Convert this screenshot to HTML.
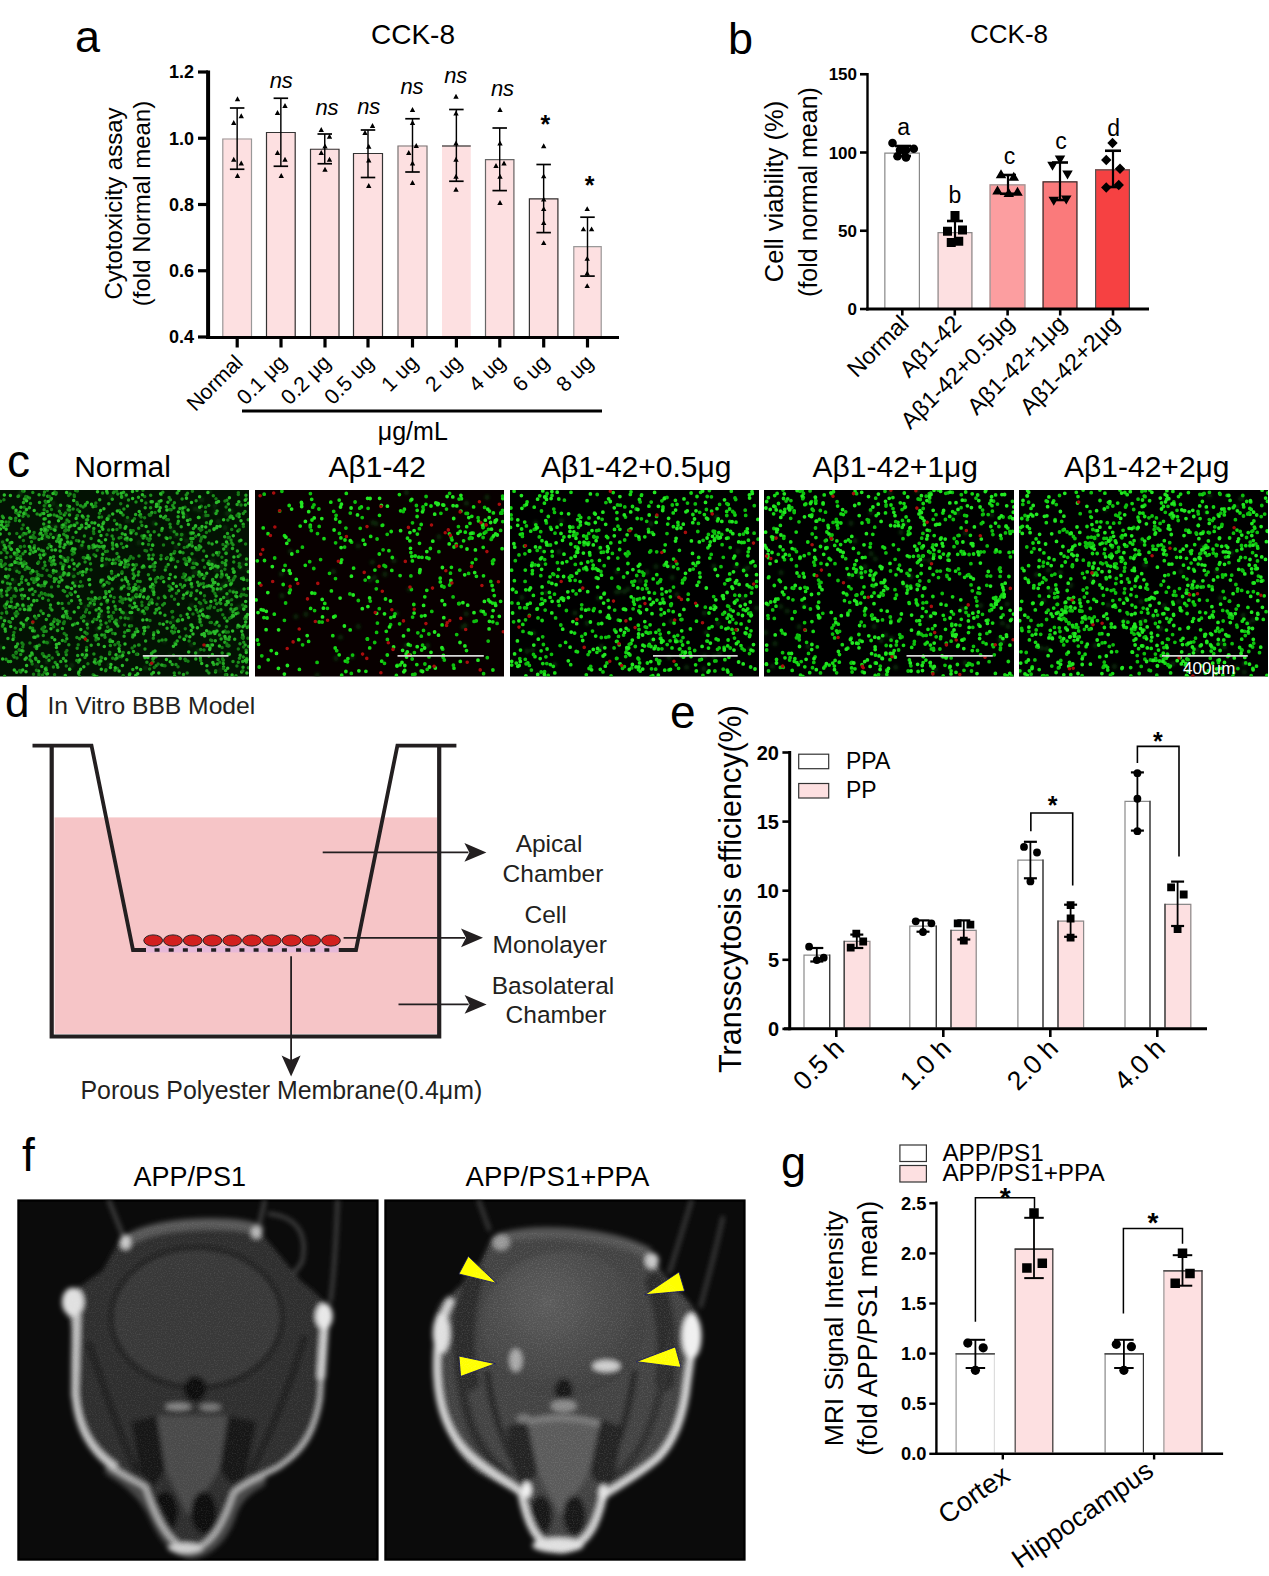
<!DOCTYPE html><html><head><meta charset="utf-8"><title>figure</title><style>html,body{margin:0;padding:0;background:#fff;overflow:hidden}svg{display:block}text{font-family:"Liberation Sans",sans-serif}</style></head><body><svg width="1269" height="1576" viewBox="0 0 1269 1576"><text x="75" y="51.5" font-size="45">a</text>
<text x="371" y="44" font-size="28">CCK-8</text>
<line x1="208.1" y1="70.5" x2="208.1" y2="339" stroke="#000" stroke-width="4"/>
<line x1="198" y1="72.00000000000006" x2="208" y2="72.00000000000006" stroke="#000" stroke-width="3.2"/>
<text x="194" y="78.30000000000005" font-size="18" text-anchor="end" font-weight="bold">1.2</text>
<line x1="198" y1="138.25000000000003" x2="208" y2="138.25000000000003" stroke="#000" stroke-width="3.2"/>
<text x="194" y="144.55000000000004" font-size="18" text-anchor="end" font-weight="bold">1.0</text>
<line x1="198" y1="204.5" x2="208" y2="204.5" stroke="#000" stroke-width="3.2"/>
<text x="194" y="210.8" font-size="18" text-anchor="end" font-weight="bold">0.8</text>
<line x1="198" y1="270.75" x2="208" y2="270.75" stroke="#000" stroke-width="3.2"/>
<text x="194" y="277.05" font-size="18" text-anchor="end" font-weight="bold">0.6</text>
<line x1="198" y1="337.0" x2="208" y2="337.0" stroke="#000" stroke-width="3.2"/>
<text x="194" y="343.3" font-size="18" text-anchor="end" font-weight="bold">0.4</text>
<text x="121.5" y="203.5" font-size="24" text-anchor="middle" transform="rotate(-90 121.5 203.5)">Cytotoxicity assay</text>
<text x="149.5" y="203.5" font-size="24" text-anchor="middle" transform="rotate(-90 149.5 203.5)">(fold Normal mean)</text>
<rect x="222.3" y="138.5" width="29.69999999999999" height="197.5" fill="#fde0e1"/>
<path d="M222.8 336V139.0H251.5V336" fill="none" stroke="#999" stroke-width="1.2"/>
<line x1="237.15" y1="108" x2="237.15" y2="169.25" stroke="#000" stroke-width="1.45"/>
<line x1="229.9" y1="108" x2="244.4" y2="108" stroke="#000" stroke-width="1.7"/>
<line x1="229.9" y1="169.25" x2="244.4" y2="169.25" stroke="#000" stroke-width="1.7"/>
<rect x="266" y="132" width="29.69999999999999" height="204" fill="#fde0e1"/>
<path d="M266.5 336V132.5H295.2V336" fill="none" stroke="#333" stroke-width="1.2"/>
<line x1="280.85" y1="98.25" x2="280.85" y2="166.25" stroke="#000" stroke-width="1.45"/>
<line x1="273.6" y1="98.25" x2="288.1" y2="98.25" stroke="#000" stroke-width="1.7"/>
<line x1="273.6" y1="166.25" x2="288.1" y2="166.25" stroke="#000" stroke-width="1.7"/>
<rect x="310" y="148.75" width="29.5" height="187.25" fill="#fde0e1"/>
<path d="M310.5 336V149.25H339.0V336" fill="none" stroke="#333" stroke-width="1.2"/>
<line x1="324.75" y1="134" x2="324.75" y2="163.75" stroke="#000" stroke-width="1.45"/>
<line x1="317.5" y1="134" x2="332.0" y2="134" stroke="#000" stroke-width="1.7"/>
<line x1="317.5" y1="163.75" x2="332.0" y2="163.75" stroke="#000" stroke-width="1.7"/>
<rect x="353" y="153" width="30" height="183" fill="#fde0e1"/>
<path d="M353.5 336V153.5H382.5V336" fill="none" stroke="#333" stroke-width="1.2"/>
<line x1="368.0" y1="130" x2="368.0" y2="177.5" stroke="#000" stroke-width="1.45"/>
<line x1="360.75" y1="130" x2="375.25" y2="130" stroke="#000" stroke-width="1.7"/>
<line x1="360.75" y1="177.5" x2="375.25" y2="177.5" stroke="#000" stroke-width="1.7"/>
<rect x="397.5" y="145.5" width="30.0" height="190.5" fill="#fde0e1"/>
<path d="M398.0 336V146.0H427.0V336" fill="none" stroke="#777" stroke-width="1.2"/>
<line x1="412.5" y1="118.75" x2="412.5" y2="172" stroke="#000" stroke-width="1.45"/>
<line x1="405.25" y1="118.75" x2="419.75" y2="118.75" stroke="#000" stroke-width="1.7"/>
<line x1="405.25" y1="172" x2="419.75" y2="172" stroke="#000" stroke-width="1.7"/>
<rect x="442" y="145.5" width="28.75" height="190.5" fill="#fde0e1"/>
<line x1="442" y1="146.0" x2="470.75" y2="146.0" stroke="#333" stroke-width="1.2"/>
<line x1="456.375" y1="109.5" x2="456.375" y2="181.25" stroke="#000" stroke-width="1.45"/>
<line x1="449.125" y1="109.5" x2="463.625" y2="109.5" stroke="#000" stroke-width="1.7"/>
<line x1="449.125" y1="181.25" x2="463.625" y2="181.25" stroke="#000" stroke-width="1.7"/>
<rect x="485" y="159.2" width="29.399999999999977" height="176.8" fill="#fde0e1"/>
<path d="M485.5 336V159.7H513.9V336" fill="none" stroke="#666" stroke-width="1.2"/>
<line x1="499.7" y1="128" x2="499.7" y2="190.6" stroke="#000" stroke-width="1.45"/>
<line x1="492.45" y1="128" x2="506.95" y2="128" stroke="#000" stroke-width="1.7"/>
<line x1="492.45" y1="190.6" x2="506.95" y2="190.6" stroke="#000" stroke-width="1.7"/>
<rect x="528.9" y="198.3" width="29.5" height="137.7" fill="#fde0e1"/>
<path d="M529.4 336V198.8H557.9V336" fill="none" stroke="#333" stroke-width="1.2"/>
<line x1="543.65" y1="164.5" x2="543.65" y2="232.6" stroke="#000" stroke-width="1.45"/>
<line x1="536.4" y1="164.5" x2="550.9" y2="164.5" stroke="#000" stroke-width="1.7"/>
<line x1="536.4" y1="232.6" x2="550.9" y2="232.6" stroke="#000" stroke-width="1.7"/>
<rect x="573.3" y="246.2" width="28.40000000000009" height="89.80000000000001" fill="#fde0e1"/>
<path d="M573.8 336V246.7H601.2V336" fill="none" stroke="#999" stroke-width="1.2"/>
<line x1="587.5" y1="217.2" x2="587.5" y2="276.1" stroke="#000" stroke-width="1.45"/>
<line x1="580.25" y1="217.2" x2="594.75" y2="217.2" stroke="#000" stroke-width="1.7"/>
<line x1="580.25" y1="276.1" x2="594.75" y2="276.1" stroke="#000" stroke-width="1.7"/>
<path d="M234.80 101.15L240.20 101.15L237.50 96.35ZM238.55 118.15L243.95 118.15L241.25 113.35ZM231.05 124.90L236.45 124.90L233.75 120.10ZM231.05 161.65L236.45 161.65L233.75 156.85ZM238.55 165.40L243.95 165.40L241.25 160.60ZM234.80 177.90L240.20 177.90L237.50 173.10ZM282.30 107.90L287.70 107.90L285.00 103.10ZM274.80 114.90L280.20 114.90L277.50 110.10ZM274.80 154.90L280.20 154.90L277.50 150.10ZM282.30 161.65L287.70 161.65L285.00 156.85ZM278.55 177.90L283.95 177.90L281.25 173.10ZM318.55 131.90L323.95 131.90L321.25 127.10ZM326.80 138.65L332.20 138.65L329.50 133.85ZM322.30 148.40L327.70 148.40L325.00 143.60ZM318.55 154.90L323.95 154.90L321.25 150.10ZM326.80 161.65L332.20 161.65L329.50 156.85ZM322.30 171.65L327.70 171.65L325.00 166.85ZM369.80 127.90L375.20 127.90L372.50 123.10ZM362.30 134.90L367.70 134.90L365.00 130.10ZM366.05 148.65L371.45 148.65L368.75 143.85ZM366.05 162.40L371.45 162.40L368.75 157.60ZM366.05 187.90L371.45 187.90L368.75 183.10ZM409.80 111.90L415.20 111.90L412.50 107.10ZM409.80 124.90L415.20 124.90L412.50 120.10ZM413.55 147.90L418.95 147.90L416.25 143.10ZM406.05 154.90L411.45 154.90L408.75 150.10ZM409.80 165.40L415.20 165.40L412.50 160.60ZM409.80 184.90L415.20 184.90L412.50 180.10ZM453.30 98.65L458.70 98.65L456.00 93.85ZM453.30 115.40L458.70 115.40L456.00 110.60ZM453.30 145.40L458.70 145.40L456.00 140.60ZM453.30 161.65L458.70 161.65L456.00 156.85ZM453.30 178.65L458.70 178.65L456.00 173.85ZM453.30 191.65L458.70 191.65L456.00 186.85ZM497.30 111.90L502.70 111.90L500.00 107.10ZM497.30 145.40L502.70 145.40L500.00 140.60ZM493.30 167.90L498.70 167.90L496.00 163.10ZM501.30 165.40L506.70 165.40L504.00 160.60ZM497.30 178.65L502.70 178.65L500.00 173.85ZM497.30 204.90L502.70 204.90L500.00 200.10ZM541.00 148.15L546.40 148.15L543.70 143.35ZM541.00 178.30L546.40 178.30L543.70 173.50ZM541.00 201.60L546.40 201.60L543.70 196.80ZM541.00 211.00L546.40 211.00L543.70 206.20ZM541.00 224.90L546.40 224.90L543.70 220.10ZM541.00 245.10L546.40 245.10L543.70 240.30ZM584.50 211.00L589.90 211.00L587.20 206.20ZM580.70 231.20L586.10 231.20L583.40 226.40ZM588.90 231.20L594.30 231.20L591.60 226.40ZM584.50 260.80L589.90 260.80L587.20 256.00ZM584.50 275.40L589.90 275.40L587.20 270.60ZM584.50 288.00L589.90 288.00L587.20 283.20Z" fill="#000"/>
<line x1="206" y1="337.5" x2="619" y2="337.5" stroke="#000" stroke-width="3.2"/>
<line x1="237.2" y1="337" x2="237.2" y2="347.5" stroke="#000" stroke-width="3.2"/>
<text x="244.0" y="363.8" font-size="21.3" text-anchor="end" transform="rotate(-45 244.0 363.8)">Normal</text>
<line x1="281" y1="337" x2="281" y2="347.5" stroke="#000" stroke-width="3.2"/>
<text x="287.8" y="363.8" font-size="21.3" text-anchor="end" transform="rotate(-45 287.8 363.8)">0.1 μg</text>
<line x1="325" y1="337" x2="325" y2="347.5" stroke="#000" stroke-width="3.2"/>
<text x="331.8" y="363.8" font-size="21.3" text-anchor="end" transform="rotate(-45 331.8 363.8)">0.2 μg</text>
<line x1="368" y1="337" x2="368" y2="347.5" stroke="#000" stroke-width="3.2"/>
<text x="374.8" y="363.8" font-size="21.3" text-anchor="end" transform="rotate(-45 374.8 363.8)">0.5 ug</text>
<line x1="412.5" y1="337" x2="412.5" y2="347.5" stroke="#000" stroke-width="3.2"/>
<text x="419.3" y="363.8" font-size="21.3" text-anchor="end" transform="rotate(-45 419.3 363.8)">1 ug</text>
<line x1="456.4" y1="337" x2="456.4" y2="347.5" stroke="#000" stroke-width="3.2"/>
<text x="463.2" y="363.8" font-size="21.3" text-anchor="end" transform="rotate(-45 463.2 363.8)">2 ug</text>
<line x1="499.8" y1="337" x2="499.8" y2="347.5" stroke="#000" stroke-width="3.2"/>
<text x="506.6" y="363.8" font-size="21.3" text-anchor="end" transform="rotate(-45 506.6 363.8)">4 ug</text>
<line x1="543.7" y1="337" x2="543.7" y2="347.5" stroke="#000" stroke-width="3.2"/>
<text x="550.5" y="363.8" font-size="21.3" text-anchor="end" transform="rotate(-45 550.5 363.8)">6 ug</text>
<line x1="587.5" y1="337" x2="587.5" y2="347.5" stroke="#000" stroke-width="3.2"/>
<text x="594.3" y="363.8" font-size="21.3" text-anchor="end" transform="rotate(-45 594.3 363.8)">8 ug</text>
<text x="281.25" y="87.5" font-size="22" text-anchor="middle" font-style="italic">ns</text>
<text x="327" y="114.5" font-size="22" text-anchor="middle" font-style="italic">ns</text>
<text x="368.75" y="113.5" font-size="22" text-anchor="middle" font-style="italic">ns</text>
<text x="412" y="93.5" font-size="22" text-anchor="middle" font-style="italic">ns</text>
<text x="455.75" y="83" font-size="22" text-anchor="middle" font-style="italic">ns</text>
<text x="502.5" y="95.5" font-size="22" text-anchor="middle" font-style="italic">ns</text>
<text x="545.3" y="133.3" font-size="25" text-anchor="middle" font-weight="bold">*</text>
<text x="589.5" y="194.3" font-size="25" text-anchor="middle" font-weight="bold">*</text>
<line x1="242" y1="411" x2="602" y2="411" stroke="#000" stroke-width="3"/>
<text x="412.8" y="439.5" font-size="25" text-anchor="middle">μg/mL</text>
<text x="728" y="54" font-size="45">b</text>
<text x="970" y="42.6" font-size="26">CCK-8</text>
<line x1="867.5" y1="73" x2="867.5" y2="310.5" stroke="#000" stroke-width="2.4"/>
<line x1="860" y1="74.25" x2="867.5" y2="74.25" stroke="#000" stroke-width="2.6"/>
<text x="857" y="80.25" font-size="17" text-anchor="end" font-weight="bold">150</text>
<line x1="860" y1="152.5" x2="867.5" y2="152.5" stroke="#000" stroke-width="2.6"/>
<text x="857" y="158.5" font-size="17" text-anchor="end" font-weight="bold">100</text>
<line x1="860" y1="230.75" x2="867.5" y2="230.75" stroke="#000" stroke-width="2.6"/>
<text x="857" y="236.75" font-size="17" text-anchor="end" font-weight="bold">50</text>
<line x1="860" y1="309.0" x2="867.5" y2="309.0" stroke="#000" stroke-width="2.6"/>
<text x="857" y="315.0" font-size="17" text-anchor="end" font-weight="bold">0</text>
<text x="783" y="191.5" font-size="25.5" text-anchor="middle" transform="rotate(-90 783 191.5)">Cell viability (%)</text>
<text x="816.5" y="192" font-size="25" text-anchor="middle" transform="rotate(-90 816.5 192)">(fold normal mean)</text>
<rect x="884.25" y="152.5" width="35.75" height="155.5" fill="#fff"/>
<path d="M884.85 308V153.1H919.4V308" fill="none" stroke="#888" stroke-width="1.2"/>
<rect x="937.5" y="232" width="35.0" height="76" fill="#fde0e1"/>
<path d="M938.1 308V232.6H971.9V308" fill="none" stroke="#888" stroke-width="1.2"/>
<rect x="989.5" y="184.25" width="36.0" height="123.75" fill="#fc9ea0"/>
<path d="M990.1 308V184.85H1024.9V308" fill="none" stroke="#999" stroke-width="1.2"/>
<rect x="1042.5" y="181.25" width="35.0" height="126.75" fill="#fa7a7b"/>
<path d="M1043.1 308V181.85H1076.9V308" fill="none" stroke="#333" stroke-width="1.2"/>
<rect x="1095" y="169.25" width="35" height="138.75" fill="#f64142"/>
<path d="M1095.6 308V169.85H1129.4V308" fill="none" stroke="#555" stroke-width="1.2"/>
<line x1="903" y1="146" x2="903" y2="156" stroke="#000" stroke-width="2.2"/>
<line x1="895.0" y1="146" x2="911.0" y2="146" stroke="#000" stroke-width="2.6"/>
<line x1="895.0" y1="156" x2="911.0" y2="156" stroke="#000" stroke-width="2.6"/>
<line x1="955" y1="221" x2="955" y2="243.5" stroke="#000" stroke-width="2.2"/>
<line x1="947.0" y1="221" x2="963.0" y2="221" stroke="#000" stroke-width="2.6"/>
<line x1="947.0" y1="243.5" x2="963.0" y2="243.5" stroke="#000" stroke-width="2.6"/>
<line x1="1008" y1="175" x2="1008" y2="193.75" stroke="#000" stroke-width="2.2"/>
<line x1="1000.0" y1="175" x2="1016.0" y2="175" stroke="#000" stroke-width="2.6"/>
<line x1="1000.0" y1="193.75" x2="1016.0" y2="193.75" stroke="#000" stroke-width="2.6"/>
<line x1="1060" y1="162.5" x2="1060" y2="200" stroke="#000" stroke-width="2.2"/>
<line x1="1052.0" y1="162.5" x2="1068.0" y2="162.5" stroke="#000" stroke-width="2.6"/>
<line x1="1052.0" y1="200" x2="1068.0" y2="200" stroke="#000" stroke-width="2.6"/>
<line x1="1113" y1="150.75" x2="1113" y2="187" stroke="#000" stroke-width="2.2"/>
<line x1="1105.0" y1="150.75" x2="1121.0" y2="150.75" stroke="#000" stroke-width="2.6"/>
<line x1="1105.0" y1="187" x2="1121.0" y2="187" stroke="#000" stroke-width="2.6"/>
<circle cx="892.5" cy="143" r="4.3"/>
<circle cx="900" cy="150" r="4.3"/>
<circle cx="906" cy="150" r="4.3"/>
<circle cx="913.75" cy="148.75" r="4.3"/>
<circle cx="897.5" cy="156.25" r="4.3"/>
<circle cx="906" cy="157.5" r="4.3"/>
<path d="M950.50 211.00h9v9h-9ZM943.00 226.75h9v9h-9ZM958.00 225.50h9v9h-9ZM946.75 238.00h9v9h-9ZM954.25 236.75h9v9h-9ZM995.75 178.25L1006.25 178.25L1001.00 169.25ZM1008.50 180.75L1019.00 180.75L1013.75 171.75ZM992.25 194.50L1002.75 194.50L997.50 185.50ZM1003.50 197.00L1014.00 197.00L1008.75 188.00ZM1012.25 195.75L1022.75 195.75L1017.50 186.75ZM1054.75 155.50L1065.25 155.50L1060.00 164.50ZM1047.25 161.75L1057.75 161.75L1052.50 170.75ZM1062.25 170.50L1072.75 170.50L1067.50 179.50ZM1048.50 196.75L1059.00 196.75L1053.75 205.75ZM1061.00 195.50L1071.50 195.50L1066.25 204.50ZM1112.50 137.80L1117.70 143.00L1112.50 148.20L1107.30 143.00ZM1106.25 154.80L1111.45 160.00L1106.25 165.20L1101.05 160.00ZM1120.00 163.55L1125.20 168.75L1120.00 173.95L1114.80 168.75ZM1106.25 182.30L1111.45 187.50L1106.25 192.70L1101.05 187.50ZM1118.75 179.80L1123.95 185.00L1118.75 190.20L1113.55 185.00Z" fill="#000"/>
<text x="903.75" y="135" font-size="23" text-anchor="middle">a</text>
<text x="955" y="202.5" font-size="23" text-anchor="middle">b</text>
<text x="1009.5" y="163.5" font-size="23" text-anchor="middle">c</text>
<text x="1061" y="148.5" font-size="23" text-anchor="middle">c</text>
<text x="1113.75" y="136" font-size="23" text-anchor="middle">d</text>
<line x1="866" y1="309" x2="1149" y2="309" stroke="#000" stroke-width="3"/>
<line x1="902.3" y1="309" x2="902.3" y2="315.5" stroke="#000" stroke-width="2.6"/>
<text x="910.1" y="325.1" font-size="23.4" text-anchor="end" transform="rotate(-45 910.1 325.1)">Normal</text>
<line x1="954.8" y1="309" x2="954.8" y2="315.5" stroke="#000" stroke-width="2.6"/>
<text x="962.6" y="325.1" font-size="23.4" text-anchor="end" transform="rotate(-45 962.6 325.1)">Aβ1-42</text>
<line x1="1007.6" y1="309" x2="1007.6" y2="315.5" stroke="#000" stroke-width="2.6"/>
<text x="1015.4" y="325.1" font-size="23.4" text-anchor="end" transform="rotate(-45 1015.4 325.1)">Aβ1-42+0.5μg</text>
<line x1="1060.2" y1="309" x2="1060.2" y2="315.5" stroke="#000" stroke-width="2.6"/>
<text x="1068.0" y="325.1" font-size="23.4" text-anchor="end" transform="rotate(-45 1068.0 325.1)">Aβ1-42+1μg</text>
<line x1="1113" y1="309" x2="1113" y2="315.5" stroke="#000" stroke-width="2.6"/>
<text x="1120.8" y="325.1" font-size="23.4" text-anchor="end" transform="rotate(-45 1120.8 325.1)">Aβ1-42+2μg</text>
<text x="7" y="476.5" font-size="46">c</text>
<text x="122.5" y="476.5" font-size="30" text-anchor="middle">Normal</text>
<text x="377.2" y="476.5" font-size="30" text-anchor="middle">Aβ1-42</text>
<text x="636.2" y="476.5" font-size="30" text-anchor="middle">Aβ1-42+0.5μg</text>
<text x="895.3" y="476.5" font-size="30" text-anchor="middle">Aβ1-42+1μg</text>
<text x="1146.8" y="476.5" font-size="30" text-anchor="middle">Aβ1-42+2μg</text>
<defs><filter id="bl" x="-5%" y="-5%" width="110%" height="110%"><feGaussianBlur stdDeviation="0.6"/></filter><filter id="bl2"><feGaussianBlur stdDeviation="1.5"/></filter></defs>
<g><clipPath id="cp0"><rect x="0" y="490" width="249" height="186.5"/></clipPath>
<rect x="0" y="490" width="249" height="186.5" fill="#031203"/>
<g clip-path="url(#cp0)">
<path d="M199.4 510.3h0M221.1 590h0M214.9 505.6h0M124.5 496.2h0M169.7 655.9h0M15.9 569.3h0M73 553.2h0M84.8 654h0M200.1 620.8h0M125.3 614.4h0M74.9 582.3h0M233.6 591.2h0M191.4 605.3h0M3 581.1h0M218.2 589.6h0M4.1 619.2h0M36.6 665.8h0M133.2 600.1h0M0.3 647.2h0M171.9 530h0M191.5 644.8h0M172.3 558.7h0M216.5 630.3h0M215.3 512.2h0M55.7 526.6h0M195.2 509.1h0M98.8 610.1h0M247.7 569.8h0M47.1 506.6h0M68.5 491.7h0M57.6 629.8h0M14.4 589.3h0M230.9 510.9h0M67 523.1h0M154.1 523.2h0M141.3 611.4h0M105.6 563.7h0M46.9 661.5h0M164.4 640.9h0M130.6 617.9h0M88.1 622.2h0M58.3 507.4h0M21.7 491.4h0M214.6 564.7h0M120.1 655.7h0M65 544h0M225.2 527.7h0M85.9 607h0M59.5 574.1h0M179.2 657.2h0M241.6 605.8h0M241.2 563.9h0M198.3 650.7h0M100.7 615.7h0M198.8 572.5h0M194.7 572.6h0M108.9 664.8h0M242.7 591.4h0M176.3 547h0M97.7 629.2h0M214.9 632.1h0M48.8 524.7h0M186.5 540.8h0M151.5 587.8h0M240.8 567.5h0M209.6 491.2h0M118 621.4h0M182 535.2h0M121.5 587.6h0M111.1 496.4h0M222.3 637.2h0M193.7 561.1h0M239.5 504.5h0M124.6 614h0M227.1 513.5h0M227 538.4h0M201.7 499.9h0M226.6 597.2h0M246.9 561.2h0M71.7 665.4h0M248.3 648.7h0M127 520.8h0M175.9 535.5h0M186.1 516.7h0M204.5 516.1h0M225.5 563.5h0M72.8 574.8h0M212.6 560.9h0M128.5 520.5h0M53.2 503.2h0M69.3 512.7h0M48.4 642.1h0M226.6 582.7h0M196.3 653.5h0M227 549.2h0M220.1 670.5h0M210 563.7h0M222.3 585.2h0M185.3 515.9h0M238.2 607.2h0M81.3 546.7h0M145.4 668h0M2.7 542.6h0M231.5 610.9h0M45.1 538h0M26 623.9h0M172.7 620.8h0M8.4 588h0M57.4 535.4h0M20.1 493.4h0M220.7 565.9h0M201.5 605.9h0M91.7 605.6h0M64.7 676.4h0M86.9 621.9h0M218.3 521.4h0M138.8 542.7h0M23.5 606.7h0M216.4 570.2h0M14.1 581.3h0" stroke="#0c3a0c" stroke-width="5" stroke-linecap="round" opacity="0.7" filter="url(#bl2)"/>
<path d="M81.9 545.3h0M29.3 568.6h0M198.6 574.8h0M120.4 597.2h0M45.5 518.7h0M203.6 536.5h0M219.7 602.6h0M25.9 497.2h0M59.4 621.4h0M9.7 569.6h0M243.3 513.6h0M162.7 604.9h0M16.9 571.2h0M103.6 548.3h0M222.1 575.5h0M182.5 587.3h0M146.9 662.2h0M89 548.2h0M17 554.6h0M79.4 676.4h0M195.2 526.7h0M183.6 514.2h0M85.1 505.8h0M19.3 649.9h0M7.5 583.2h0M36.8 577.8h0M20 609.2h0M219.1 625.8h0M183 598.3h0M208.8 505.6h0M7.4 602.1h0M57.3 620.2h0M153 661.7h0M106.6 601h0M129.1 630.6h0M231.6 582.9h0M200.7 660.5h0M95.7 598.7h0M33.9 582.6h0M211.3 622.6h0M68.9 521.5h0M68.5 529.9h0M155.8 582.1h0M208.9 673.1h0M18.6 495.9h0M10.3 622.2h0M76.9 637.6h0M236 675.8h0M66.3 635.3h0M245 511.5h0M182.1 499.1h0M170.4 527.2h0M44.5 492h0M177.8 523.4h0M153.2 555.1h0M248.2 519.7h0M174.2 531.8h0M222.3 562.4h0M49 655.5h0M109.4 559.7h0M235.1 576.5h0M51 624.6h0M159.8 623.8h0M196.9 549.8h0M213.1 555h0M9 621.4h0M236.5 608.4h0M8.7 589.4h0M228.1 577.8h0M224.2 586.6h0M109.6 654.1h0M171.6 631.3h0M139.1 645h0M40.9 585.9h0M63.9 615.2h0M216.6 603.7h0M35.1 591.6h0M246.1 650.3h0M150.7 495.2h0M128.5 564.7h0M140.2 581.6h0M16.4 590.5h0M238.3 662.2h0M7.1 552.7h0M233 661.6h0M27 568.2h0M143.6 633.8h0M48.7 537.2h0M191.5 583.5h0M145 648.9h0M178.7 620.8h0M5.8 608.1h0M153.3 590.4h0M133 530.7h0M174.4 502.8h0M78.4 662.1h0M53.9 529.6h0M23 553.8h0M105 637.3h0M33 594.4h0M28.7 584.3h0M125.2 617.9h0M153.3 638.3h0M152.7 658.8h0M47.2 511.4h0M75.7 490.6h0M62 603.6h0M14.2 656.9h0M107.1 602.1h0M89.5 559h0M150.6 507.7h0M80.6 505.8h0M218 659.5h0M141.9 525.6h0M84.9 632.2h0M101 657.2h0M173 633.1h0M101 624.8h0M69.6 510.1h0M246.7 658.4h0M136.2 533.8h0M164.3 596.2h0M97 676.5h0M174.6 632.1h0M5.7 604.8h0M63.9 564.9h0M46 533.2h0M130.6 530.6h0M240.8 595.9h0M158.9 641h0M9.4 533.7h0M233.7 562h0M213.1 591.1h0M107 582.2h0M186.2 495h0M145.9 608.1h0M170.4 499.8h0M99 598.5h0M79.5 638.8h0M21.5 578.9h0M46.2 631.2h0M243.7 642.3h0M28.7 606.4h0M50.7 499.7h0M31 572.6h0M113.4 538.9h0M104.5 635.1h0M248.4 667.7h0M59.4 511.2h0M195.3 606.6h0M67.6 617.8h0M147.3 608.1h0M47.3 536.4h0M228 653.9h0M58.4 586.2h0M142.4 611.5h0M31.5 541.7h0M195.9 563.6h0M123.1 514.9h0M199.8 573.4h0M208.7 633.4h0M186.1 562.8h0M135.4 565.2h0M136.6 629.1h0M106.5 558.9h0M84.4 536h0M120.7 617.8h0M122.5 599.5h0M20.3 546.7h0M172.8 542.8h0M183 552.8h0M80.3 572.2h0M224.7 618.1h0M99.5 664.3h0M61.8 557.5h0M90.5 563.8h0M48.5 595.1h0M134.6 646h0M44 631.5h0M70.1 494.1h0M135.5 595.8h0M162.1 640h0M191.6 542h0M68.1 509.7h0M6.5 611.9h0M53.4 666.9h0M226 553.1h0M87.3 640.6h0M34 581h0M18 605.3h0M51.6 564.7h0M22.2 576.7h0M6.1 557.5h0M157.9 505.7h0M54.7 491.9h0M20.5 590.1h0M38.7 661.5h0M187.5 493.2h0M199.3 548.3h0M193.2 576.2h0M148.1 531.8h0M85.1 562.1h0M156.1 665.7h0M212.5 580.4h0M238 613.1h0M23 650.9h0M54.1 515h0M243 638.2h0M196.1 500.8h0M222.2 653h0M112.1 536h0M217.8 567.5h0M36 659.4h0M32.6 628.3h0M128.5 499.9h0M44.4 528.1h0M37.1 513.9h0M153.1 588.5h0M172.7 505.5h0M135.3 584.4h0M16.4 552.9h0M23.4 626.7h0M39.2 645.2h0M77.4 504.2h0M116.3 623.4h0M171.1 509.7h0M115 670.3h0M162.8 492.3h0M176.8 534.3h0M114.1 492h0M199.1 528.6h0M72.3 560.1h0M74.3 552.9h0M166 537.8h0M154.2 531.7h0M180.2 551.9h0M23 516.3h0M205.9 602.4h0M137.6 581.2h0M156 656.7h0M192 553.7h0M230.8 515.9h0M169.7 590.6h0M102.6 492.9h0M174.3 673.1h0M164.4 603.5h0M77.1 515.8h0M138.7 528.2h0M73.1 509.1h0M63.2 590.5h0M98.4 662.2h0M65 573.5h0M176 664.5h0M6.7 613h0M33.9 579.1h0M83.1 507.1h0M66.3 654.7h0M181.7 534.5h0M136 501.9h0M42 629.1h0M83.3 517.2h0M0.9 617.8h0M188.8 557.7h0M22.9 566.6h0M34.4 631h0M225.7 604.7h0M190.1 519.6h0M8.2 588.4h0M9.1 546.3h0M52.3 624.3h0M179.7 636.9h0M123.9 509.1h0M223.3 660.3h0M101.3 542.5h0M115.4 658.9h0M205.5 511.9h0M15.8 518.2h0M6 659.2h0M74 525.1h0M187.2 546.8h0M17.4 513.2h0M125.2 564h0M163.6 665.4h0M248.8 626.3h0M91.8 591.9h0M40.9 611.1h0M30.5 503.4h0M32.4 654.5h0M112.8 545.2h0M6 522.1h0M112.1 588.9h0M20.8 672h0M71.8 550.4h0M243.3 578.1h0M86.4 520.1h0M42.8 654.1h0M50.3 607.9h0M37.9 574.4h0M239.4 541.1h0M218.9 552.5h0M194 567.4h0M227 638.9h0M115.9 609.3h0M44.6 562.3h0M243.3 657h0M105.9 669.7h0M138.6 645.1h0M11.3 601.8h0M106.1 623.1h0M47.7 548.1h0M46.4 657.3h0M8.4 576.1h0M95.8 663.3h0M44.8 593.7h0M89.5 612.8h0M128.7 584.3h0M170.4 587.1h0M43.3 635.4h0M7.2 577.8h0M63.8 623.6h0M64.7 591.5h0M150.2 538.7h0M69.6 543.8h0M80.9 603.4h0M200.7 583.9h0M213.3 495.8h0M113.4 492.7h0M59.3 517.3h0M10.5 548.6h0M130.8 539.4h0M22 643h0M124.7 632.3h0M148.4 574.8h0M116.2 620.3h0M238.3 513.9h0M149.6 515.1h0M129.9 673.8h0M233.5 572h0M74.2 569.2h0M115.6 576.6h0M152.5 545.1h0M123.3 612.7h0M185.7 660.5h0M9.9 565.2h0M14.6 554h0M215.2 600.2h0M115.2 563.3h0M94.9 635.7h0M191.4 593.1h0M119.6 564.6h0M189.1 578.1h0M156 523.9h0M134.5 568.2h0M105.5 551.6h0M161.7 530.6h0M67.4 616.4h0M190.7 624.9h0M5.1 550.1h0M20.7 654.6h0M191.9 586.8h0M26 533.7h0M105.6 591.5h0M39.8 534h0M93.9 654.1h0M133.2 573.8h0M32.8 492.6h0M184.1 559h0M186 580h0M206 617h0M139 555.9h0M213 584.6h0M231.7 543.1h0M55.2 662.6h0M24.3 513.2h0M185 659.3h0M119.1 537.9h0M76.8 660.6h0M30 659.7h0M67.7 560.3h0M74.7 624.1h0M18 496.6h0M92.9 545.4h0M220.9 609.8h0M85 657.4h0M78.8 528.4h0M154.6 566.6h0M68.8 644.7h0M95.1 659.6h0M239.4 658.3h0M117.8 493.9h0M67.2 538.1h0M45.2 501.3h0M59.6 582.1h0M136.5 606.4h0M206.9 670.7h0M86.3 655.3h0M178.3 619.7h0M240 643.7h0M42.2 513.5h0M220.7 603.6h0M59 536.5h0M44.3 585.8h0M186.3 635.9h0M77.2 648.3h0M169.1 497.5h0M102.8 579.9h0M98.9 627.9h0M63 608.4h0M170 524.2h0M51 595.1h0M221.4 571.2h0M67 520h0M47.4 530.2h0M88.4 598.7h0M231 540h0M113.5 601.7h0M246.2 499.1h0M29.5 497.9h0M206.5 522.8h0M6.6 591.2h0M93 547.7h0M208.8 542.9h0M153.8 632.7h0M96.9 619.4h0M199.2 517.4h0M107.7 518.3h0M67.3 596.1h0M91.1 538.4h0M183.9 639.1h0M1 552.7h0M63.7 534.3h0M196.4 549.6h0M117 553.4h0M77 523.1h0M110.4 645.5h0M43.8 495h0M132.2 591.3h0M21.5 582.5h0M66 535.7h0M123.3 547.4h0M165.8 639.7h0M233.1 579.9h0M101.7 657.7h0M2.4 516.3h0M180.4 584.4h0M198.6 549.6h0M16.6 611.8h0M65.9 529.8h0M45.1 565.4h0M44.1 509.7h0M192.2 567.7h0M13 507.7h0M209.1 632h0M120 525.3h0M41.4 550.3h0M233 544.8h0M17.4 562.8h0M219.5 635h0M2.5 626.2h0M226.9 500.3h0M85.8 572h0M105.6 670.8h0" stroke="#1a8e1a" stroke-width="3.5" stroke-linecap="round" filter="url(#bl)"/>
<path d="M30.2 627.8h0M108.6 577.1h0M124.9 560h0M10.6 661.6h0M112.5 543h0M54.3 581.6h0M247.2 627.6h0M183.5 674.5h0M216 513.6h0M122.3 533.7h0M161.7 664.9h0M198.6 585.4h0M16.1 652.3h0M62.4 640.5h0M133.5 651.4h0M125.3 539.1h0M22.5 589.3h0M225.5 638.6h0M217.1 575.1h0M237.9 531h0M233.3 592.1h0M153.6 658.2h0M181.2 526.8h0M107.3 492.9h0M78.5 607.4h0M31.8 579.1h0M42.7 598.3h0M142.3 567.2h0M89 526.6h0M172.2 627.3h0M77.3 566.1h0M240.2 655.3h0M69.5 514.9h0M8.4 661.5h0M38.7 615.6h0M237.1 504.6h0M56.2 579h0M212.6 567.3h0M216.1 596h0M66.6 613.4h0M53.6 556.8h0M114.6 621.9h0M51.2 624.3h0M52.1 637.4h0M226.1 553.4h0M223.6 667.1h0M245.2 645h0M19.8 557.8h0M241.6 672.1h0M98.4 644.5h0M174.6 676.1h0M178.1 516.8h0M128.9 599h0M206.8 586.2h0M63.8 547.5h0M195.8 659h0M241.5 578.4h0M107.9 519.1h0M91.2 645.2h0M27.1 567h0M242.6 634.8h0M23.9 533.6h0M68.8 573.6h0M129.6 626h0M38.6 671h0M101.2 604.2h0M240 567.1h0M165.1 597.4h0M93.8 544.9h0M100.8 582h0M135.3 632.2h0M97.1 545.9h0M225.8 546.3h0M121.8 612h0M235.7 595.9h0M225.1 563.6h0M28.2 583.8h0M118.7 556.9h0M112.3 499.2h0M15.4 588.4h0M99.5 531.5h0M225.6 565.1h0M129.4 588.3h0M93 600.6h0M148.9 558.8h0M151.7 599.9h0M123.9 586.3h0M13.2 507.3h0M127.5 506h0M93 506.7h0M24.2 564h0M117.8 625.9h0M196.3 609.8h0M230.9 609.1h0M213.1 588.6h0M0.7 563.9h0M228.3 504h0M109.7 630.2h0M111.5 571.5h0M99.1 517.3h0M238.2 556.4h0M177.3 621.1h0M172 611.7h0M19.1 584.6h0M179.9 508.4h0M223.3 663.5h0M41.8 666.4h0M96.6 635.2h0M170.3 574.4h0M115.1 633.8h0M67.3 536.4h0M58.2 538.7h0M143.2 537.9h0M106.2 631.2h0M153.8 594.4h0M226.5 575h0M57.6 630.5h0M200.1 622h0M87.6 519.8h0M121.9 573.3h0M88.8 546.4h0M164.9 615.3h0M151.8 512.5h0M145 657.7h0M171.6 557.9h0M178.9 544.2h0M181 539.4h0M245.8 606.5h0M71.3 594.6h0M155 650.9h0M38.5 548.9h0M135.6 514.4h0M193 538.5h0M199.2 545.8h0M170.9 554.5h0M221.1 639.1h0M57.8 667.2h0M51.9 550h0M57.7 623.9h0M88.1 516.3h0M165.5 516.2h0M35.6 658.2h0M242.7 661.5h0M108.8 616.7h0M60.1 543.4h0M4.6 676.2h0M139.8 515.2h0M83.6 620.9h0M243 667.2h0M213.8 664.4h0M223.7 549h0M44.6 530.7h0M236.5 592.6h0M132.5 607.8h0M210.8 633h0M20.7 559.2h0M53.8 563.7h0M183.2 577.4h0M127.6 630.6h0M83.5 615.9h0M58.4 654.5h0M167 621.8h0M81.6 525.2h0M148.3 597.1h0M5.6 548h0M17 558.6h0M196.8 590.7h0M29.8 547.2h0M246.5 559.1h0M226.8 674.7h0M33.8 637.3h0M84.2 637.4h0M71.5 600.7h0M118.5 642.6h0M39.5 502.6h0M231.8 516.4h0M235.5 525.9h0M215.3 640.7h0M166.4 558.5h0M230 517.3h0M244.9 625.3h0M30.7 549.9h0M68.2 587.3h0M110.2 639.9h0M33.3 552.2h0M246.1 616.3h0M46.3 670h0M26.1 580.2h0M148.8 555.3h0M121.6 497.3h0M25.2 551.5h0M99.7 499.7h0M107.4 518.4h0M6 569.1h0M152.4 501.8h0M85.5 504.4h0M136.3 596.8h0M62.4 628.5h0M178.6 590.7h0M134.5 575.9h0M227.5 533.5h0M212.4 654.5h0M232.5 548.5h0M100.5 620.9h0M159.1 608.2h0M4.2 545.2h0M128 560.7h0M224.8 642.3h0M141.6 500.5h0M159.2 501.5h0M226.9 593.8h0M48.9 615.4h0M63.4 658.4h0M106.1 593.5h0M122 579.9h0M37.8 563.3h0M1 560.4h0M73.6 551.4h0M177.2 641h0M43.9 641.9h0M60.8 661.5h0M19.5 520.8h0M168.2 564.6h0M215.5 672.1h0M156.6 609.9h0M46.3 619.5h0M245.3 606.2h0M82.5 575.1h0M195.6 652.9h0M234.9 609.2h0M95.7 555.9h0M56.9 516h0M78.7 540.9h0M2.6 582.1h0M83 542.1h0M121.5 496.6h0M133.3 578.2h0M62.2 527.2h0M60.1 551.1h0M58.9 582h0M213.3 589.1h0M138.1 574.9h0M221.9 574.1h0M138.2 609.6h0M224.7 536.8h0M248.3 588.4h0M38.3 578.7h0M196 599h0M66.8 638.7h0M29.6 590.1h0M25.9 563.5h0M137 490.4h0M153.1 652h0M124.1 636.3h0M21.6 595.2h0M44.6 627h0M140.3 594.6h0M78.6 673.5h0M239.3 626.2h0M143.7 627.8h0M47.7 496.3h0M99.4 546.7h0M112.8 548.8h0M102.4 546.6h0M113.3 578.3h0M113.2 560.1h0M243.1 636.5h0M167.1 628.2h0M51.2 561.2h0M108.3 611.9h0M177.2 493.1h0M190.8 538.4h0M55 564.3h0M49 660.2h0M43.2 613.6h0M16.6 672.3h0M84.6 558h0M63.8 617h0M39.1 494.7h0M145.6 641h0M5.4 631.2h0M237.4 551h0M197.6 582.2h0M225.6 670.4h0M24.4 499h0M138.7 572h0M199.9 619.2h0M53.8 621.5h0M29.2 609.2h0M163.7 517.7h0M217.3 664.1h0M166.3 506.7h0M6.7 525.7h0M44.7 581.9h0M214 529.4h0M174.1 552.9h0M54.4 578.4h0M110 641.5h0M151.7 674.1h0M98.4 638.7h0M229.5 637h0M43.7 524h0M190.2 578.2h0M86.7 633.6h0M212.7 579.4h0M239.1 626.5h0M15.6 646.9h0M145.2 507.8h0M192.2 546.1h0M96.3 637.9h0M226.3 604.6h0M10.9 518.5h0M13.4 635.4h0M220.8 588.7h0M103.7 522.2h0M77.7 655.4h0M155 613h0M124.6 567.1h0M125.5 577.4h0M132.7 637.1h0M55.8 494.1h0M7.9 638.5h0M71.1 525.7h0M208.2 617.5h0M185.4 574.8h0M137.7 654.2h0M228.3 645.8h0M115.1 606.3h0M138.5 497.3h0M197.1 564.3h0M3.3 517.7h0M159.2 510.6h0M233.9 571.2h0M147.4 598.6h0M193.4 528.4h0M233 611.7h0M246.4 661.9h0M3.1 624.6h0M150.4 535.3h0M44.1 656.2h0M243.2 524.3h0M110 641.6h0M59.9 546.5h0M200.4 658.1h0M79.6 511.5h0M232.6 615.3h0M205.1 537.1h0M46.1 582.3h0M59.7 542h0M167.9 502.3h0M101.8 634.9h0M29.9 608.2h0M172.2 664.4h0M1.8 566.5h0M30.4 537.3h0M226.1 560.4h0M36.9 600.5h0M44.9 583.3h0M190.7 595.4h0M42.6 535.6h0M239.2 514.2h0M56.1 571.3h0M40.6 557.9h0M87.3 502.5h0M56.7 541.2h0M94.9 506.1h0M173.9 507.8h0M108.8 503.7h0M17.6 644.1h0M102 560.5h0M24 491h0M245.9 495.2h0M232.9 568.9h0M212.1 544h0M63.1 575.1h0M92.7 621.8h0M10.2 543.1h0M11.2 606.4h0M9.8 518.1h0M165.3 570.1h0M90.2 602.9h0M223.6 597.6h0M248.7 646.5h0M239.1 516.8h0M140.5 514.5h0M15.5 607.3h0M93.8 528.4h0M81.8 526.7h0M189 561.2h0M65.4 560.9h0M182.6 511.5h0M156.2 609.6h0M126.3 495h0M228.9 639.4h0M217.1 511h0M79.1 564.1h0M184.7 576.3h0M37.8 636h0M50.5 605h0M99.2 614.1h0M48.5 615.6h0M160.9 558.9h0M34.6 616.2h0M94.3 604.2h0M28.1 609.7h0M126.8 659.7h0M39.9 554.9h0M31.6 661.4h0M43.4 551.1h0M159 534.9h0M211.5 521.1h0M157.6 577.4h0M32.7 537.3h0M39 539.6h0M89.5 558.1h0M69.6 669.2h0M231.4 617.2h0M20.1 512h0M132.8 669.4h0M110.6 596.1h0M111.2 629.8h0M184.5 585.6h0M0.8 521.5h0M61.3 518.2h0M16 615.9h0M36.6 648.5h0M41.4 593.1h0M27.2 496.9h0M117 658h0M51.4 498.4h0M117.1 546.2h0M51.9 610h0M180.3 658.5h0M10.1 584h0M178.4 521.2h0M125.3 599.1h0M173.4 625.7h0M29.4 507.8h0M203.7 578.2h0M91.9 522.8h0M150.8 514h0M148.9 604.4h0M151.5 653.5h0M101.3 610.9h0M102.2 558.3h0M87.8 555.6h0M199.1 616.1h0M96.1 609.9h0M40.1 515.1h0M190.1 609.6h0M244.1 589h0M133 635h0M23.5 502.6h0M234.7 639.3h0M200.7 547h0M52.2 596.2h0M123.6 492.2h0M20.6 629.6h0M60.3 577.2h0M79.3 586.3h0M64.2 514.9h0M188.5 617.6h0" stroke="#22a622" stroke-width="3.5" stroke-linecap="round" filter="url(#bl)"/>
<path d="M74.4 496.6h0M24.2 507.3h0M38.9 675h0M223.4 668.4h0M160.8 578.2h0M166.7 519.5h0M103 586.1h0M171.6 596.3h0M205.5 507.2h0M72.4 554.2h0M28.4 516.1h0M42.4 653.8h0M210.6 639.9h0M114.2 597.5h0M187.8 591.9h0M166.1 567h0M50.6 576.2h0M193 614h0M141.2 590.6h0M239.3 529.8h0M156 578.8h0M109.6 621.1h0M123.1 599.2h0M91 569.7h0M22.6 491h0M226.1 506.9h0M201.3 506.2h0M116.5 559h0M170.6 622.7h0M141.1 517h0M204.6 633.9h0M222.8 614.7h0M204.5 567.3h0M77.5 515.6h0M208.9 561.2h0M13.2 655.6h0M46.4 642.5h0M49.8 560.6h0M22.6 646.9h0M229 645.7h0M65.2 641.2h0M149.6 668.9h0M42.6 674.9h0M119.5 656.5h0M209 617h0M239.3 563.4h0M19.2 649.7h0M102.6 565.3h0M109 583.2h0M76.5 540.4h0M32.6 622.8h0M11.3 598.5h0M23.1 606.1h0M215.7 631.8h0M148.2 626.9h0M94.3 601.2h0M24.2 562h0M246.5 618.7h0M180.7 615.7h0M132.8 598h0M204 650h0M33.1 535.6h0M149.2 514.7h0M43.1 627.7h0M107.4 551.2h0M94.3 619.2h0M239.2 566.3h0M231.7 599.8h0M19.2 572.5h0M65.6 513.1h0M30.9 573.1h0M202.6 609.6h0M128.2 587.9h0M243.7 608.4h0M206.4 532.6h0M209.5 530.8h0M163.5 544.9h0M32.2 663.9h0M236.9 666.1h0M24.8 512.1h0M107.9 608.4h0M45.8 534.1h0M226.3 632.3h0M150 620.6h0M33.9 538h0M43.3 628.8h0M153.8 585.7h0M204.5 595.7h0M51.5 587h0M121.5 656.7h0M111.3 616h0M172.7 558.6h0M16.9 657.9h0M199.8 576.2h0M38.9 674.1h0M208 515.6h0M204.2 600.2h0M218.1 554.9h0M197.9 612.2h0M17.8 613.8h0M207.7 608.1h0M120.7 503.7h0M204.8 576.1h0M149.7 602.3h0M49.2 544.6h0M80.6 581.7h0M49.3 496.4h0M52.2 657.9h0M176.4 593.3h0M15.1 596.3h0M16.1 653.3h0M185.3 628.8h0M3.9 549.4h0M243.4 526.5h0M56.3 492.7h0M223 544.4h0M130.5 539.6h0M16.3 555.2h0M33.5 674.3h0M94 554.7h0M48.4 600.3h0M39.3 595.8h0M150.6 515.1h0M127.1 540.1h0M95.8 503.1h0M64.7 530.7h0M151.2 549.6h0M225.4 674.8h0M229.4 537.2h0M22.4 598.5h0M66.9 611.2h0M190.4 533.1h0M174.7 551.4h0M144.1 567.1h0M68.6 543.6h0M87 633.8h0M47.4 490.3h0M187.2 673.1h0M15.5 520.5h0M45 554h0M67.6 505.8h0M241.5 594.6h0M136.4 654.3h0M46.9 570.3h0M88.5 605.5h0M60.7 513.5h0M211.8 640.6h0M229.9 590.9h0M217.4 553.1h0M244.6 618.4h0M20.5 556.4h0M246.3 595.4h0M185.5 563.5h0M201.2 539h0M60.8 563.3h0M0.9 593.3h0M178 666.8h0M55.7 527.1h0M70.1 593.2h0M12.8 607.7h0M179.3 673.1h0M151.1 600.2h0M113.5 612.4h0M211 645.1h0M238.3 492.7h0M211 564.1h0M205.9 515.6h0M35.8 581.6h0M227.1 645.7h0M200.7 530.3h0M14 632.6h0M245.6 544h0M215.7 670.7h0M219.8 662.3h0M8 525.2h0M142 605.6h0M133.2 558.3h0M188.2 579.5h0M34.1 532.5h0M13.7 637.2h0M101.6 517.1h0M15.7 512.4h0M170.5 622.8h0M133 530.8h0M142.2 591.6h0M162.8 577.5h0M147.2 538.4h0M121.9 599h0M116.9 529.5h0M23.1 644.4h0M161.1 555.5h0M46.3 527.3h0M131.6 625.8h0M65.4 526.8h0M201.8 529.4h0M42 593.8h0M101.1 661.1h0M145 536.2h0M48.8 526.4h0M68 557.8h0M206.3 645.7h0M150.3 664.4h0M145 550.4h0M141.9 536.1h0M215.1 624.3h0M230.5 584.8h0M129.8 605.8h0M8.8 522.1h0M148.5 544.6h0M77.7 509.8h0M5.3 563.9h0M117.3 668.4h0M172.8 617.3h0M1.9 613.3h0M63.9 558.4h0M155.5 579.6h0M73.6 576.5h0M53.6 626.8h0M242.7 604.9h0M191.3 543.8h0M107.7 627h0M46.1 667.9h0M123.4 675.7h0M95.8 506.2h0M33.1 578.8h0M167.3 557.4h0M66.9 650.4h0M12.4 579.5h0M185.3 563h0M74.2 495.1h0M61.7 557h0M62 525.6h0M114.5 520.5h0M109.8 652.2h0M227.8 520h0M36 618.2h0M149.1 540.6h0M216 498.7h0M121.4 543.7h0M112.7 658.3h0M221.2 576.9h0M158.2 664.1h0M72.9 537.4h0M63.4 622.9h0M170.3 537.7h0M65.8 652.3h0M99.9 597.7h0M136.4 594.6h0M185 507.2h0M3.9 499.8h0M68.6 495.5h0M81.4 617.7h0M118 643.1h0M181.6 534.8h0M121 589h0M119.4 510.5h0M120.2 527.3h0M200.5 541h0M22.8 535h0M23.4 540.4h0M29.9 642.9h0M146.9 609h0M44.2 505.8h0M25.7 496.5h0M231.7 529.4h0M146.6 551.1h0M214.9 593.4h0M28.9 532.2h0M195.6 536.3h0M25.8 513.9h0M46 594.7h0M183.9 574.1h0M112.7 633.3h0M99.4 513.2h0M229.5 618.3h0M130.8 556.5h0M192.4 491.2h0M127.5 517.4h0M63.1 565.2h0M3.9 565.2h0M129.5 558.8h0M122.5 602.8h0M106.8 601.1h0M203.4 583.4h0M124.7 625.1h0M154.2 570.1h0M237.5 627.2h0M16.8 533.5h0M191 533.7h0M199.3 602.6h0M46 502.7h0M158.4 597.9h0M114.9 644.7h0M49.8 505.6h0M222.6 658.8h0M145.8 502.9h0M226.4 626.7h0M106.9 534.7h0M173.5 655.2h0M78.1 573.5h0M157.5 631h0M201.5 625.3h0M111.7 573.3h0M78.2 644.7h0M138.7 586.9h0M2.6 541.9h0M236.9 515.6h0M242.2 637.5h0M224.9 569.2h0M86.5 609.7h0M154.3 667.6h0M225 630.9h0M77.4 491h0M35.1 537.8h0M13.8 596.1h0M119.4 560.8h0M54.5 619.3h0M168.9 586h0M123.1 675.5h0M57.1 652.1h0M33.7 601.6h0M15 613.4h0M144.6 517.8h0M155.1 512.5h0M175 643.1h0M203.7 551.1h0M86.6 647.6h0M240 555h0M38.7 561.9h0M83.3 557.5h0M65.7 522.9h0M51.5 509.5h0M67.2 561.6h0M42 575.5h0M37 646.2h0M209.6 607.9h0M42.2 585.6h0M64.3 621.7h0M217.9 610.5h0M15.2 628.3h0M226.8 643.7h0M194.3 643.4h0M210.5 606h0M93.8 533.5h0M173.2 559.4h0M188 661.3h0M229.6 580.4h0M168.4 519.8h0M128.2 618.4h0M70.3 618.5h0M50.9 528.4h0M134.4 518.8h0M144.5 613.5h0M149.7 579.1h0M19.7 670.6h0M1.9 596.3h0M97.2 550.2h0M65.4 531.1h0M0.5 501.3h0M172.6 611.6h0M169.7 509.5h0M152.2 566.3h0M85.5 612.1h0M228.4 632.1h0M175.3 628.2h0M242.8 670.8h0M82.4 585.9h0M186 561h0M112.1 618.6h0M136.5 564.8h0M50.7 534.2h0M231.5 604.8h0M127.2 566.8h0M63.4 525.3h0M210.1 622.4h0M234.1 578.3h0M34.5 545.7h0M123 652.5h0M225 501.1h0M36.8 571.7h0M161.6 576.9h0M184.3 547.5h0M23.2 524.9h0M222.1 647.5h0M158.5 504h0M182.5 510.7h0M244.1 594.7h0M64.2 633.4h0M95.9 640h0M119.7 645.4h0M243.6 646.9h0M93.4 531.6h0M39.6 575.3h0M141.8 602.3h0M47.3 642.7h0M116.6 491.2h0M44.6 672.3h0M109.1 516h0M123.3 652.4h0M74.1 576.3h0M165 665.8h0M54.6 674.8h0M238.3 649h0M227.9 543.9h0M67.3 574.9h0M35 646.8h0M238.3 494.5h0M214.3 607.6h0M108.6 529.9h0M152.7 590.8h0M122 571.8h0M91.3 599.2h0M68.8 603.2h0M25.1 569.5h0M156.9 604.2h0M74.6 549.5h0M184.9 558.7h0M4.4 606.1h0M132.2 647.9h0M93.2 674.7h0M247.9 638.3h0M189.1 640.9h0M241.1 505h0M161.2 494.6h0M84.2 616.4h0M21.8 528.8h0M144.7 496.6h0M141 521.9h0M10.8 556.7h0M153.3 564.6h0M185.7 659.8h0M19.1 563.4h0M208.9 656.2h0M24.4 546.3h0M87.9 663.8h0M49.1 575.5h0M20.7 546.9h0M174.5 599.2h0M193.3 563.2h0M119.9 601.2h0M247.1 580.3h0M203 560.3h0M228.3 537.4h0M142.9 490.3h0M53.3 572.7h0M200.7 649.5h0M200.6 603.4h0M66.3 665.9h0M120.9 537.4h0M221.9 557.2h0M36.4 670.2h0M1.4 561.5h0M77 502.5h0M182.6 577.3h0M177.7 561.6h0M87.6 628.1h0M43.1 568.2h0M71 541.7h0M10.3 587.8h0M201.5 537.5h0M228.8 600.9h0M136.9 589.6h0" stroke="#147a14" stroke-width="3.5" stroke-linecap="round" filter="url(#bl)"/>
<path d="M74.7 525.5h0M77.6 623.2h0M0.5 529h0M98.7 616.8h0M27.7 618.6h0M22.9 604.9h0M152.5 584.3h0M246.3 652.6h0M202.5 614.5h0M248.5 503.3h0M94.3 662.1h0M147.9 657.5h0M80.8 629.5h0M22.7 670.1h0M71.2 543.3h0M76.1 518.6h0M43.8 513.6h0M238.1 625.3h0M35.1 637.2h0M152.2 559h0M227 621h0M41.9 538.6h0M53.8 560.3h0M192.8 627.3h0M122.4 665.4h0M34.2 510.5h0M135.7 675.5h0M107.6 600.2h0M59.7 541.9h0M218.5 501.5h0M53 493.5h0M178.6 631.4h0M31.6 604.9h0M210.9 601.6h0M227.7 668.2h0M30.1 656.1h0M3.7 647.7h0M104.4 597.4h0M104.3 646.4h0M178.4 511.9h0M32 588.9h0M212.1 564.6h0M125.2 534.7h0M10.4 495.4h0M120.1 609.5h0M55 530.3h0M206.7 573.3h0M195.7 547.7h0M236.8 596.7h0M144.1 590.4h0M38.5 661.8h0M131.7 612.4h0M207.7 645.6h0M4.3 495.1h0M106.7 491.2h0M31.8 653h0M98.9 540.8h0M74.9 548.9h0M23.8 513.4h0M191.5 502.5h0M144.6 630.8h0M100.6 510.5h0M161 500.8h0M109.3 591.5h0M211.3 586.2h0M204.6 636h0M121.6 588.1h0M207.9 563.6h0M43.6 555.1h0M11.7 564.8h0M127.5 581.4h0M101.3 669.3h0M125 643.9h0M199.1 572.1h0M172.1 589h0M65.3 675.5h0M146.1 526.6h0M166.4 659.5h0M110.9 664.4h0M171.3 559.1h0M56.4 644.5h0M34.1 548.1h0M45.3 529.3h0M82.8 571.7h0M23.3 624.8h0M115.3 667.7h0M220.1 526.2h0M72.8 583h0M246.9 659.8h0M242.9 626.8h0M22.6 566h0M26.2 658.1h0M60.6 505.3h0M83.8 666.8h0M107.1 519.4h0M99.8 628h0M82.3 654.8h0M21.1 622.9h0M216.6 542h0M66.6 492.4h0M131 533h0M224.9 636.5h0M233.1 518.5h0M137.7 673.8h0M25.1 659.3h0M116.6 544.8h0M182.5 619.8h0M21.1 563h0M86.5 650.3h0M238.8 501.8h0M233.9 557.1h0M86.6 655.1h0M225.9 585.4h0M170.2 661.7h0M4.6 620.7h0M16 510.3h0M146.9 619.8h0M155.2 562.7h0M122.7 655.5h0M245.7 601.5h0M5.3 547.5h0M10.7 626.6h0M205.7 526.9h0M245.2 660.4h0M59.4 535.4h0M112.4 563.5h0M129.4 674.7h0M170.9 560.1h0M189.8 636.7h0M105.3 596.9h0M142.4 494.7h0M216.9 622.2h0M232.6 631h0M57.1 664.8h0M21 507.2h0M166.9 510.1h0M74.8 586h0M197.4 627.7h0M217.3 588.9h0M203.8 587h0M212.5 645.1h0M178.3 604.3h0M119.1 671h0M160.6 493.7h0M132.8 569.9h0M65.8 661.1h0M79.7 659.9h0M71.5 588.5h0M80.1 600.2h0M16.2 646.5h0M199.6 496.7h0M119 648.8h0M117.3 511.1h0M29.4 531.3h0M143.4 566.1h0M160.2 507.8h0M167 538.4h0M78.9 672h0M14.9 562.5h0M3.7 527.3h0M150.5 579h0M223.6 519.8h0M183.7 595h0M209.7 649.5h0M214.1 528.7h0M145.2 657.1h0M6.9 595h0M65 544.8h0M58.5 520.8h0M189.2 545.1h0M112.3 579.4h0M132.6 520.9h0M191.2 583.9h0M230.8 584h0M130.5 600h0M50.9 628.7h0M160.2 613.1h0M33.9 600.6h0M175.6 567h0M125.8 579.2h0M5.5 576.6h0M143.2 610.9h0M234 572.2h0M186.7 593.3h0M100.4 661.1h0M6.5 604.1h0M233.4 615.9h0M18.8 551.2h0M47.5 673.8h0M78.2 596.5h0M191.3 630.4h0M214.9 582.6h0M62.8 567h0M133 564.8h0M63.9 572.7h0M68.6 574.8h0M103.9 508.7h0M198.6 517.5h0M189.8 559.4h0M199.6 507.2h0M162.2 528.5h0M229.3 654.3h0M26.5 509.5h0M86.3 523.4h0M133.6 590.1h0M153.6 635h0M175.8 644.3h0M159.3 511h0M24.5 609.5h0M153.8 592.3h0M125.1 528.2h0M200.6 593h0M218 566.6h0M144.1 535.7h0M26.4 620.1h0M198.7 534.7h0M158.3 632.2h0M121.5 562.5h0M189.9 579.8h0M95 546.8h0M116.8 524.1h0M143.6 597h0M112.8 529.7h0M29.3 546.6h0M102.8 529.3h0M75.3 592h0M32.5 570.4h0M183 513.1h0M206.9 665.7h0M86.8 569.2h0M216.5 502.5h0M173.4 646.2h0M213.8 631.7h0M176.4 586.3h0M37.1 579.4h0M216.7 527.7h0M125.8 561.4h0M108 631.5h0M69.2 527h0M89 525.8h0M210.8 521.8h0M118.3 575.1h0M35.5 551.2h0M36.9 646.5h0M17.2 604.3h0M21.9 650.7h0M74.2 612.1h0M163.7 581.7h0M169.1 578.4h0M104.2 584.7h0M247.5 614.4h0M19.8 537h0M226.5 542h0M232.1 675.1h0M227.2 601.5h0M116 654.8h0M126.7 546.3h0M243.8 609.3h0M26.6 500.8h0M29.9 553.8h0M53.4 570.5h0M216.5 552.7h0M12.5 618.6h0M121.3 493.3h0M223.1 632.1h0M236 613.7h0M204 633.6h0M72.6 625h0M229.4 497.8h0M89.7 584.8h0M193.2 533.1h0M120.5 564.6h0M119.5 651.2h0M101.7 565.7h0M144.3 589h0M150.5 586.7h0M65.2 560.5h0M188.1 510h0M229.6 510h0M198.4 517.5h0M45.4 669h0M76 532.2h0M2.6 659h0M178.8 490.4h0M65.7 611.4h0M139.2 511.6h0M220.6 599.5h0M125.8 526.7h0M243.6 579.4h0M9.6 606.4h0M160.6 516.2h0M61.9 580.1h0M50.3 514.9h0M95.2 597.7h0M137.8 631.5h0M128.8 652.8h0M105.5 539.7h0M149.9 566.7h0M245.2 500.3h0M201.9 574.4h0M14.3 553.1h0M209 564.4h0M188.9 608.2h0M195.6 525.8h0M69.3 566.8h0M62.7 569.1h0M112.5 641.6h0M87.1 624.3h0M94.7 676.1h0M48.4 515.6h0M186.5 498.2h0M215.6 566.1h0M173.2 583.6h0M120.6 512.4h0M187.5 520.6h0M207.9 492.5h0M87.4 557.7h0M142.8 543.7h0M233.3 535.8h0M44.1 518.9h0M201.7 663.5h0M158.8 672.9h0M30 609.7h0M61.2 539.8h0M24.5 595.8h0M121.2 512.8h0M73.7 500.6h0M219.4 645.9h0M59.1 643.4h0M216.9 630.9h0M200.6 611.1h0M134.5 635.1h0M11.8 542.6h0M193 633.9h0M41.3 529.4h0M79.8 528.5h0M1.4 590.2h0M69.5 506.5h0M51 546.6h0M63.1 525.1h0M191.7 625h0M180 552.1h0M184.4 639.4h0M228.6 577.6h0M110.4 667.4h0M128.5 594.5h0M210 648.1h0M60.4 556.6h0M214.9 633.5h0M245.4 505.1h0M74 563.7h0M102.8 554.2h0M108.2 607.8h0M13 639.5h0M101.2 580.2h0M133.8 587.4h0M91.5 504.2h0M203.4 615.8h0M53.2 537.6h0M134.5 603.2h0M206.6 630.8h0M89.5 579.4h0M45 583.5h0M127.1 537.9h0M217 526.6h0M99.1 608.5h0M136.7 667.8h0M49.2 521.9h0M5.1 628.9h0M98.6 525.3h0M101 535.5h0M88.8 579.8h0M50.5 557.8h0M26.6 665.4h0M28.4 598.6h0M218.2 584.3h0M152.2 603h0M116.1 624.1h0M142.8 620.1h0M72.7 548.7h0M104.2 546.2h0M186.5 564.5h0M101.8 527.1h0M26 671.7h0M151.1 501.7h0M46.9 674.1h0M32.6 630.8h0M228.2 602.5h0M14.9 561.7h0M62.6 616.4h0M49.7 505.8h0M152.7 545.3h0M202 526.4h0M11.4 549.6h0M182.8 508.1h0M7.2 539.9h0M241.8 631.3h0M153.4 672.4h0M201.9 634.4h0M132.5 491.4h0M213.6 582.4h0M187.2 614.2h0M0.2 534h0M48.4 501.5h0M206.5 556.2h0M246 616.8h0M33.1 571.2h0M140.6 669.6h0M156.3 506.5h0M67.6 542h0M14.3 670h0M240.9 540.2h0M38.2 585h0M6.2 529.2h0M27.7 528.3h0M241 520.7h0M132.6 498.5h0M17.4 549.6h0M248.3 571.7h0M82.3 516.1h0M109.6 578.4h0M191.8 533.1h0M131 539.8h0M139.7 596.5h0M1.4 524.9h0M80.6 669.3h0M55.4 550.1h0M245.7 621.9h0M208.9 585.7h0M69.7 669.3h0M135.3 606.8h0M49 526.8h0M112.7 514h0M2.3 521.7h0M175.3 576.9h0M135.7 588.6h0M130.1 612.5h0M210.5 568.5h0M246.9 673.1h0M183.4 517h0M216.2 576.8h0M54.7 639.7h0M156.6 504.2h0M40.8 532.9h0M188.7 652.1h0M86 527.9h0M105.5 658.7h0M210.3 523.8h0M207.3 616.6h0M56.4 647.6h0M66.7 586.9h0M144.9 627.5h0M58.3 603.2h0M188.4 524.4h0M246.2 564.6h0M163.3 624.2h0M94.8 523h0M82.2 636.7h0M19 515.6h0M103 523.7h0M97.5 491.7h0M212.8 662.6h0" stroke="#2abc2a" stroke-width="3.5" stroke-linecap="round" filter="url(#bl)"/>
<path d="M85.4 639.1h0M32.9 622h0M204 645h0M151.7 663.2h0" stroke="#a80c0c" stroke-width="3.6" stroke-linecap="round" filter="url(#bl)"/>
</g></g>
<g><clipPath id="cp1"><rect x="255" y="490" width="249" height="186.5"/></clipPath>
<rect x="255" y="490" width="249" height="186.5" fill="#080000"/>
<g clip-path="url(#cp1)">
<path d="M463.1 626.9h0M281.4 574h0M394 560.6h0M290.4 551.3h0M372.3 562.2h0M384.9 574.2h0M466.3 613.7h0M487 497.3h0M333.4 571.5h0M317.2 675.3h0M406.5 492.5h0M358.2 545.9h0M305.9 614.3h0M369.9 579.7h0M427.5 645.5h0M465 625.4h0M352.1 656.8h0M438.9 536.8h0M409.3 589.3h0M340.5 637.3h0M374.6 577.5h0M372.9 522.5h0M336.1 658.2h0M281.9 595.8h0M358.3 626.6h0M376 523.5h0M396.6 613.4h0M295.9 616.5h0M406.3 645.2h0M466.5 503.2h0" stroke="#0c3a0c" stroke-width="5" stroke-linecap="round" opacity="0.7" filter="url(#bl2)"/>
<path d="M400.1 664.9h0M494.3 595.6h0M407.5 538.2h0M332.8 635.7h0M417.1 516.5h0M421.2 524.5h0M460.2 531.4h0M483.2 547.3h0M495.1 603.3h0M386.3 631.3h0M361.4 506.9h0M492.1 585.5h0M396.4 675.4h0M411.8 556.5h0M330.8 502.2h0M391.8 570.4h0M369.7 647.9h0M385.5 599h0M440.2 578.2h0M415.2 556h0M459.1 603.5h0M259.5 583.3h0M339.8 522h0M363.2 540.2h0M412.4 560.9h0M470.5 533.7h0M257.4 640h0M264.5 560.5h0M263.2 527.9h0M350.2 629.9h0M370.7 536.4h0M299.4 669.4h0M471.8 516.3h0M421.7 650h0M308.6 641.4h0M419.6 572.6h0M476.4 576.3h0M257.3 560.8h0M298.7 639.7h0M392.3 557.5h0M382.7 525.1h0M284.5 535.7h0M379.5 515.3h0M379.3 554h0M274.3 614.2h0M431 506h0M339.2 500.1h0M466.7 526.7h0M488.5 600h0M283.2 584.5h0M335.7 519h0M300.2 526.1h0M387.3 655h0M335.2 616.1h0M268 533.7h0M492.2 616.7h0M451.4 567.3h0M500.8 513.2h0M460.3 661.4h0M463.6 540.8h0M331.4 590.9h0M493.8 559.9h0M465.3 532.2h0M417.4 534.1h0M421.2 670.9h0M324 538.7h0M400.1 575.6h0M267.1 618h0M422 557.3h0M500.9 513.1h0M442.7 504.8h0M452 539.9h0M289.2 505.5h0M430.4 548.5h0M367.3 639h0M419.5 543.3h0M424.8 596.8h0M314.8 593.3h0M502.1 548.7h0M341.7 559.8h0M289.4 592.7h0M417.2 510.3h0M381.7 661.2h0M443.4 655.4h0M388.9 550.7h0M335.2 648h0M413.8 604.5h0M502.8 498.5h0M410.9 552.6h0M473.6 506.9h0M426.8 590.3h0M478.5 520.9h0M492.5 603.1h0M484.2 533.2h0M305.3 565.3h0M418.8 557.2h0M456.2 544.1h0M324.8 603.4h0M472.1 538.1h0M310.3 525.2h0M271.2 650.6h0M345.3 661.1h0M483.5 575.8h0M382.2 525.4h0M480.2 534.3h0M391.2 531.5h0M492.9 670h0M470 523.3h0M374.9 570.1h0M340.9 537.9h0M341.7 675.2h0M421.5 616.1h0M310.6 608.4h0M493.1 590.2h0M311.7 499.3h0M400.6 510.8h0M493.4 512.9h0M408.4 629.9h0M345 540h0M492.7 563.5h0M404.4 509.2h0M345.9 671.5h0M483 527.6h0M399.4 494.6h0M425.9 504.3h0M437.7 503.5h0M472.2 562.8h0M312 520h0M466.5 650.6h0M489.5 511.1h0M339.2 654.8h0M454 547h0M440.3 581.9h0M449.4 533.8h0M268.2 659.8h0M365.9 671.3h0M454 668.2h0M461.5 498.7h0M390.8 617.6h0M500.6 601.3h0M353.6 568.2h0M347.9 658.6h0M492.8 621.8h0M346.3 493.4h0M442.1 624.9h0M263.9 617.6h0M416.8 664.6h0M426.8 557.6h0M429 558.5h0M441.8 586h0" stroke="#14d814" stroke-width="3.8" stroke-linecap="round" filter="url(#bl)"/>
<path d="M279.7 511.1h0M419.4 528.7h0M258.6 644.3h0M458.4 526.6h0M390.6 624.7h0M481.2 611.1h0M500.6 530.4h0M410.9 575.9h0M317.1 662.4h0M466.1 513.4h0M485.1 614.2h0M446.5 509.1h0M450.5 573.2h0M453.1 596.9h0M312.7 507.2h0M488.5 529.3h0M310.4 493.6h0M426.1 496.5h0M451.3 537.4h0M470.5 537.6h0M450.7 583h0M438.9 551.7h0M497.1 623.4h0M339.4 533.4h0M417.8 632.8h0M487.3 657.7h0M358.3 600.5h0M429 656.9h0M329.5 573.3h0M387.4 639.4h0M495.8 520.8h0M284.4 620.3h0M397.2 665.3h0M474.1 621.4h0M314.6 610.6h0M416.4 505.5h0M410.3 645.3h0M468.6 573.4h0M302.6 644.8h0M281.9 491.3h0M384.5 663.3h0M415 674.2h0M492.1 537.8h0M383.1 549.8h0M501.9 513.2h0M351.6 542.2h0M449.6 493.3h0M311.3 530.6h0M320.6 559.6h0M483.5 526.5h0M336.1 515.3h0M355.1 502h0M318.9 509h0M424.9 664h0M387.2 534.3h0M395 613.8h0M483.6 673.7h0M488.2 641.1h0M335.5 578.6h0M345.9 528.1h0M502.5 510.3h0M484.6 507.4h0M412.7 674.6h0M502.6 496.1h0M414.4 652.6h0M412.6 617.1h0M443.1 657.3h0M365.2 580.1h0M377.1 539h0M309.7 561.7h0M492.5 561.2h0M482.9 524.4h0M478.1 517.7h0M319.2 622h0M427.2 669.3h0M333.7 511.3h0M453.4 665.2h0M259.2 667h0M423.3 509.7h0M322.2 622.1h0M444 587h0M264.2 494.2h0M344.6 547.1h0M376.6 632.4h0M442.7 649.2h0M377.3 581.4h0M428.9 634h0M440.9 513.3h0M444.3 660h0M313.8 568.5h0M500.8 513.1h0M469.4 538.5h0M410.7 500.5h0M461.2 546.6h0M360.2 528.3h0M370.3 601.1h0M485.9 532h0M274.7 558h0M411.4 589.5h0M399.6 623.8h0M459.8 570.1h0M368.1 508.3h0M423 507h0M475.8 559.3h0M335.6 542.8h0M384 565.5h0M367.5 639.1h0M385.6 566.5h0M412.2 659h0M350.3 513.1h0M374.7 642.5h0M317.5 533.6h0M456.7 634.6h0M297.5 551.4h0M483.1 537.5h0M476.3 620.8h0M327.4 608.3h0M310.3 526.9h0M359.7 508.2h0M431.8 611.4h0M288.9 540.2h0M403.2 511.5h0M319.2 526.4h0M285.1 565.4h0M458.7 603.7h0M459.1 499.1h0M314 504.8h0M379.3 608.7h0M352.6 655.1h0M302.4 547.2h0M449.6 585.1h0M423.5 630.4h0M290.3 590h0M376.3 588.8h0M412.5 522.8h0M473.3 533.2h0M336.7 650.7h0M377.4 623.1h0M285.6 603h0M422.6 645.2h0M261.8 655.8h0M467.5 513.5h0M421.3 636.2h0M490.8 581.5h0M362.2 517.6h0M502.8 521.6h0M351.3 673.4h0M349.9 593.9h0M347.5 661.8h0M491.2 539.4h0" stroke="#10c010" stroke-width="3.8" stroke-linecap="round" filter="url(#bl)"/>
<path d="M422.5 511.8h0M409.9 540.8h0M420.1 569.7h0M435.3 668h0M444.7 604.7h0M460.9 495.3h0M381.4 505.5h0M370.1 498.5h0M495.6 533.8h0M340.9 562.4h0M431 652.3h0M419.9 570.8h0M367.6 498.3h0M301.4 502.4h0M484.4 601.4h0M414.1 530.7h0M278.4 668.3h0M490.6 522.5h0M491.5 529.2h0M460 642.5h0M387.4 506.2h0M429.5 667h0M478 660.2h0M410.2 655.1h0M397 666.1h0M321.8 518.6h0M362.3 608.7h0M403.8 671.8h0M276.5 653.4h0M426.8 551.6h0M404.8 670.5h0M289.3 570.7h0M364.9 544.3h0M369.6 597.9h0M333.7 617h0M495.7 605.4h0M482.5 524.9h0M376.7 613.3h0M291.6 509.1h0M340.5 507h0M441.9 647.7h0M474.7 572.6h0M493.5 536h0M457.9 533.3h0M301.7 506.5h0M456.8 505.9h0M311.9 593h0M344.4 626h0M489.2 517.7h0M403.5 635.9h0M350.3 540.7h0M447.1 496.5h0M263.3 610.1h0M483.3 611.7h0M425 615.6h0M424.6 648h0M334.1 530h0M453.1 505.7h0M402 662.4h0M462.9 602.7h0M266.3 611.3h0M285.9 537.2h0M409.9 532.6h0M283.5 570.3h0M358.9 670.8h0M340.1 598.1h0M367.9 606.6h0M357.5 514.9h0M417.2 646.7h0M272.3 566.6h0M351.1 508h0M464.9 645.9h0M442.4 567.5h0M353.2 595h0M379.6 498.3h0M485.3 520.2h0M267.8 592.6h0M402.6 650.3h0M478.6 535.6h0M305.4 521.4h0M322.2 599.4h0M323.4 608.2h0M490.1 601.8h0M474 612.7h0M351.4 576.2h0M489.4 621.3h0M278.6 629.8h0M394.1 616.4h0M467 549h0M258 612.6h0M493.1 610.6h0M314.2 517.9h0M437.6 504.7h0M410.5 548.3h0M468.8 517.6h0M438.3 503.9h0M450.9 580.3h0M435.8 502.9h0M487.8 509.2h0M422.6 671.5h0M296.3 579.3h0M423.6 605.4h0M464.7 574.8h0M453.7 518.5h0M452.8 496.9h0M489.1 628.9h0M496.5 519.8h0M475.4 549.9h0M301.7 503.5h0M438.5 635.2h0M393.6 646.9h0M368.8 577.3h0M400.6 530.7h0M286.8 543.3h0M408.3 644.5h0M291.8 554h0M443.8 617.7h0M414.1 613.1h0M404.8 665.5h0M432.8 541.2h0M495.3 520.7h0M287.4 665.5h0M307.2 635.6h0M284.4 674.1h0M411.8 499.3h0M471.8 533.2h0M495 522.1h0M266.1 629.7h0M290.3 573.3h0M434.7 514.2h0M341.1 547.6h0M407.3 652h0M322.5 616.9h0M308.7 511.7h0M390.5 601h0M497.3 535h0M406.2 653.9h0M467.7 605.2h0M406.6 657h0M442.1 600.7h0M261.2 609.6h0M449.2 543.9h0M434.6 632h0M443.7 505.2h0M256.1 599.9h0M384.5 613.8h0M389.5 626.9h0M341.4 504.2h0M460.9 511.1h0M499.3 616.3h0" stroke="#22e822" stroke-width="3.8" stroke-linecap="round" filter="url(#bl)"/>
<path d="M273.7 493h0M272.7 581.5h0M346.4 536.6h0M364.2 572.4h0M479.4 501.7h0M261 585.2h0M381 506.5h0M299.2 629h0M410 587.1h0M408.4 527.4h0M409 655.1h0M391.9 609.7h0M274.9 527h0M260.1 495.8h0M465.7 629.5h0M471.5 566.4h0M432.5 588.1h0M460.8 618.4h0M290.1 586.4h0M367 526.6h0M503.3 631.7h0M447.1 622.9h0M279.6 510.8h0M448.3 529.9h0M379.1 566.4h0M297.8 583.5h0M375.2 612.6h0M287.2 648.5h0M366.8 658.4h0M327.6 620.2h0M382.3 591.3h0M425.9 623.6h0M403.5 620.9h0M270.4 535.5h0M380.9 672.8h0M445.2 532.7h0M446.6 625.4h0M450.4 535.4h0M460.1 511.9h0M293.1 641.9h0M262.8 549.6h0M480.2 669.9h0M449.8 620.6h0M317.8 583.4h0M260.7 554.2h0M315.3 621.5h0M431.5 525h0M405.3 561.4h0M338.3 561.2h0M362.6 654.1h0M414.2 609.2h0M467.2 662.2h0M445.9 570.7h0M498.4 581.8h0M481.9 585.5h0M486.9 551.6h0M456.5 545.9h0M393 649.4h0M388.3 642.8h0M307.5 598.9h0M451.9 583h0M499.3 504.2h0M434.1 666.2h0M480.9 522.7h0M486.2 524.9h0" stroke="#a80c0c" stroke-width="3.6" stroke-linecap="round" filter="url(#bl)"/>
</g></g>
<g><clipPath id="cp2"><rect x="510" y="490" width="249" height="186.5"/></clipPath>
<rect x="510" y="490" width="249" height="186.5" fill="#000"/>
<g clip-path="url(#cp2)">
<path d="M686.6 667.2h0M727.6 613.7h0M704.5 656h0M532.5 650.2h0M736.2 565.9h0M650.9 523.8h0M599.8 548.2h0M737.9 551.3h0M527 651.3h0M719.3 653.9h0M618.8 591.3h0M616.9 571.4h0M742.9 597.9h0M647 572.2h0M668.9 657.3h0M601.5 646.4h0M750.1 649h0M716.7 516.9h0M640.1 580.8h0M558.9 551.8h0M756.8 608h0M533.5 633.1h0M744.4 569.9h0M546.3 592.7h0M717.8 623.2h0M554.8 664.5h0M652.1 641h0M713.9 566.2h0M575 613.1h0M703.8 668.7h0M671.2 621.2h0M616.6 591.9h0M521.8 597.5h0M542 550.8h0M535.6 522.9h0M627.9 589.3h0M539.4 564h0M670.9 566h0M747.6 567.7h0M598.5 598h0M704.4 612.9h0M713.9 656.4h0M624.3 591.5h0M687.3 654.7h0M561.5 520.8h0M676.9 594.5h0M672.2 577.4h0M656 566.6h0M706.1 632.4h0M587.1 623.2h0" stroke="#0c3a0c" stroke-width="5" stroke-linecap="round" opacity="0.7" filter="url(#bl2)"/>
<path d="M585.4 543h0M696.5 621.2h0M677.9 522.5h0M569.3 577.4h0M656.8 574.7h0M631 491.8h0M698.7 557.4h0M570.7 664.7h0M690 652.7h0M724.9 659.7h0M630.4 618.8h0M741.6 542.5h0M718.2 639.9h0M698.6 562.3h0M589.1 668.5h0M647.4 663h0M736 522.2h0M598 569.8h0M593.4 610.5h0M724.6 612.5h0M587.8 562h0M708.5 648.1h0M739.6 534.6h0M527.8 662.8h0M652.8 675.7h0M511.7 665.1h0M738.2 641.8h0M717.5 520.8h0M541.7 557.7h0M709 628.2h0M751 630.8h0M514.1 491.2h0M664.1 551h0M674.2 636.4h0M577.5 651.8h0M718.6 538.2h0M752.9 650.8h0M624.6 609.2h0M661 609.3h0M586.8 569.7h0M633.5 601.7h0M748.4 540.2h0M581.2 563.4h0M748.2 551.8h0M520.3 534.3h0M638.5 637.2h0M728.2 504.5h0M557 527.2h0M617.1 641.5h0M552 495.5h0M669 669.9h0M619.8 542.2h0M535.8 524.8h0M639.6 662.9h0M687.9 599.6h0M542 540.7h0M533.4 595.4h0M510.9 508h0M619.9 529.3h0M554.8 672.9h0M658.5 661.5h0M613.2 492.6h0M571 558.1h0M728.1 640h0M539.7 495.8h0M537.4 527.7h0M696.3 670.9h0M714.7 538.9h0M744.1 542.4h0M648.9 506.2h0M718.8 532.6h0M573.4 535.4h0M634.4 604.3h0M532.3 573.7h0M648.2 633.2h0M670.4 596.8h0M600.3 669.3h0M544.4 503.2h0M525.8 589.8h0M589.6 651.8h0M673.6 566.8h0M600.3 547.7h0M731.1 616.3h0M540.8 604.3h0M549.4 592.4h0M595.9 568.7h0M544.2 551.6h0M656.9 600.1h0M671.4 604h0M695.6 664.8h0M728.2 628.1h0M709.8 558.1h0M728.9 657.3h0M682.4 582.9h0M572.9 590.8h0M638.8 610.9h0M575.4 546.8h0M717.2 536.2h0M521.6 529h0M698.8 582.1h0M599.5 560.4h0M510.5 527.4h0M673.4 526.7h0M726.7 511.4h0M688 642.4h0M663 508.1h0M607.7 537.7h0M730.6 531.5h0M655.9 632.3h0M586.7 538.4h0M722.4 596h0M699.7 572.9h0M577.7 519.7h0M658.3 649h0M617 518.9h0M522.8 624.4h0M532.3 563.1h0M539.9 547.4h0M561.2 524.6h0M587.1 500.7h0M745.6 531.7h0M530.7 531.2h0M566.8 561.6h0M638.5 669.6h0M608.1 600.3h0M518.2 603.4h0M731.3 491.2h0M542.8 663.6h0M626 652.5h0M619.7 549.5h0M514.4 580.7h0M684.5 655.7h0M525.3 570.1h0M727.2 618.2h0M580.7 517.4h0M704.4 514.6h0M729.8 579.4h0M577.5 547.3h0M735 515h0M524.7 522.1h0M712.1 626.6h0M607.3 617.3h0M665.2 544.8h0M550 576.8h0M749.5 636.5h0M727.3 670.1h0M692.9 514.5h0M558.6 569.4h0M728.7 614.8h0M600.2 611.7h0M739.5 595.5h0M668.8 632.6h0M659.7 581.4h0M558.8 499h0M733.7 558.1h0M737.1 600.1h0M682.6 645h0M700.6 492.3h0M675.4 500.3h0M681 619.6h0M640.2 671.1h0M580.4 525.1h0M747.9 555.8h0M743.6 570.5h0M512.4 589.5h0M631 643.5h0M544.9 600.7h0M610.8 542.9h0M616.5 641.4h0M522.3 534h0M534.2 507.2h0M540.2 658.6h0M630 655h0M732 629.4h0M677 504.3h0M571 492.3h0M655.4 646.4h0M527.1 502h0M552.9 573.8h0M747.7 608.8h0M535 656.7h0M520.5 650.1h0M589.9 555h0M594.5 513.2h0M641.6 494.8h0M581.2 616.5h0M679.4 649.1h0M710.3 542h0M706.9 641.1h0M746.7 628.3h0M557.7 576.4h0M547.1 649h0M697 496.5h0M741.1 623.9h0M749.1 621.1h0M585.3 634h0M571.9 576.2h0M690.4 629h0M711.6 511.1h0M733.4 633.2h0M614.5 529.4h0M535.8 528.9h0M596.9 652.3h0M561.4 513.3h0M709 613h0M550.1 597.4h0M660.8 638.2h0M532.4 570.6h0M736.8 564h0M679.4 550.3h0M750.8 562.7h0M701.5 659.3h0M579 570.4h0M632.5 506.5h0M595.7 636.1h0M707.9 635.4h0M729.6 509h0M729.7 573.9h0M570.1 580.4h0M588.7 523.9h0M727.7 645.9h0M639.4 499.5h0M707.4 641.2h0M593.9 536.4h0M716.1 638.9h0M542.1 620.5h0M663.8 624.4h0M663 507h0M667.7 524.1h0M677 641.4h0M644.5 646.1h0M576.2 651.4h0M592.7 568.6h0M750.6 667h0M633.3 585.2h0M673.2 611.7h0M653.2 578.9h0M679.9 648.8h0M565.6 642.4h0M741 645.7h0M580.1 581.6h0M625.4 553.8h0M616.9 512.6h0M596.3 577.7h0M516.2 592.2h0M511.6 570.2h0M637.3 599.5h0M574.6 633.1h0M548.3 516.5h0M707.9 547.8h0M678 525.1h0M663.1 602.4h0M637.2 518.5h0M658.9 663.6h0M756.4 586.5h0M639.1 571.2h0M663.2 641.1h0M586.3 674.8h0M743.3 609.7h0M577.1 551.3h0M638 658.2h0M529.3 632.8h0M553.3 666.3h0M550.3 664.6h0M593.2 565.2h0M541.1 650.8h0M601.3 552.4h0M748.7 613.5h0M660.3 638.6h0M579.6 542.4h0M749.3 586.7h0M683.3 657.2h0M640.3 612.5h0M746 633.5h0M673.2 512.9h0M641.4 495.4h0M516.3 663.1h0M673.6 559.1h0M570.8 544h0M691.1 493h0M649.3 644.5h0M606.5 536.4h0M672 647.9h0M646.1 632.2h0M684.9 578.2h0M638.3 625.2h0M674.1 623h0M664.7 670.2h0M530.2 603.2h0M630.3 494.4h0M645.5 585h0M583.7 535.9h0M749.9 635h0M563.9 537h0M627.9 563.5h0M618.3 569.2h0M651 646.5h0M531.4 633.5h0M644.8 536.8h0M650.1 624.8h0" stroke="#14d814" stroke-width="3.8" stroke-linecap="round" filter="url(#bl)"/>
<path d="M624.4 666.6h0M633.7 598.8h0M642.4 589h0M661.1 614.8h0M645.2 626.8h0M629.2 644.5h0M544.6 671.7h0M651.5 668.8h0M684.3 579.5h0M648.6 645.8h0M592.5 631.1h0M685.2 652.7h0M661.9 500.8h0M581.6 608.9h0M525.3 659.3h0M629.1 553.5h0M559.2 605.4h0M542.1 593.3h0M531.4 670.1h0M657.7 582.9h0M721 566.7h0M597.1 537.3h0M646.7 521.3h0M515.3 560.7h0M670.9 605.5h0M643.5 575.3h0M618 526.2h0M713.7 596.6h0M552.3 556.1h0M550.5 527.3h0M683 637.6h0M631.8 582h0M649.7 552.1h0M677.9 568.7h0M543.4 644.5h0M723.2 669.2h0M596.6 530.7h0M540.7 531.7h0M670 590.8h0M717.5 649.3h0M662.7 599.2h0M537.5 608.6h0M619.4 588h0M667 497.5h0M636.2 509h0M606.9 663h0M519.8 658.6h0M537.2 550.4h0M664.3 565.2h0M719.2 647.9h0M695.6 565.4h0M524.5 505.6h0M541.5 511h0M699.6 660h0M546.2 496.1h0M633.1 608.8h0M598.8 530.1h0M551.5 654.3h0M755.2 565.9h0M698.4 523.4h0M735.7 499.5h0M533.5 654.5h0M730.5 609.7h0M529.3 550.9h0M627 555.8h0M659.8 660.9h0M670.7 604.7h0M640.2 501.9h0M529.4 615.4h0M638.8 659.2h0M724.1 647.3h0M622.5 668.3h0M626.8 649.7h0M745.7 595.7h0M590.7 666.4h0M519.8 607.7h0M668.6 610.7h0M524.6 607.8h0M639.2 539.3h0M743.4 534.1h0M553.8 509.1h0M672.3 505h0M542.7 636.8h0M598.5 623.8h0M628.1 551.9h0M547.1 493.4h0M751.5 593h0M546.4 522.9h0M680.7 655.5h0M616.5 658.5h0M648.4 529.3h0M641.4 518.8h0M540.8 575.7h0M694.7 650.5h0M681.9 619.5h0M511.1 514.9h0M594 537.1h0M545.5 564.1h0M524.9 553.8h0M667.2 644.6h0M623.6 635.1h0M660.7 579.7h0M588.8 542.7h0M662 594.2h0M647 588.7h0M560.1 645.6h0M745.7 515.4h0M603.5 552.2h0M702.9 675.3h0M678.6 668.3h0M605.8 637.3h0M576.5 552.4h0M572.8 527.2h0M614.1 647.9h0M605.9 502.6h0M563.7 598.6h0M646.1 581.2h0M721.7 534.4h0M673.5 587.1h0M618.3 620.1h0M594.2 608.6h0M600.9 571.5h0M591.8 560.8h0M544.7 559.6h0M601.3 637.5h0M526.1 663.8h0M709.4 490.5h0M575.2 580.3h0M754.3 505.7h0M724.7 583.8h0M604.4 593.1h0M639.8 598.7h0M690.5 654.3h0M656.6 516.4h0M726.8 503.6h0M756.6 581.4h0M656.6 659.4h0M650.4 632.7h0M578.5 527.3h0M628.9 530.2h0M526.4 525.9h0M736.1 623.1h0M654.5 593.2h0M735.5 601.5h0M577 533.6h0M738.3 614h0M730.2 648h0M635.3 646.5h0M548.2 675.4h0M529.4 665.4h0M614.6 630h0M583.8 568.7h0M682.6 580.3h0M553.8 574.6h0M732.7 511.5h0M695.3 503.9h0M639.9 606.4h0M576.1 593.9h0M522.4 536.4h0M602.1 519.3h0M750.6 612.9h0M714.8 661h0M617.8 558.1h0M729.8 521.5h0M661.9 648.8h0M617.5 504.9h0M608.8 636.7h0M564.4 500.2h0M599.7 650.4h0M697.8 531.5h0M758.1 539.2h0M726.8 515.5h0M611.7 578.1h0M589 517.9h0M581.8 636.3h0M612.4 553.4h0M588.8 533.4h0M617 658.3h0M575.1 556.1h0M646.6 627.4h0M730.2 547.6h0M707.2 496.5h0M588.7 609.4h0M716 660.9h0M548.4 545.1h0M682.5 652h0M548.8 582.1h0M588.1 654.6h0M513.6 621.8h0M693.2 569.1h0M541.2 672h0M624.8 506.9h0M525.5 619.8h0M636 535.3h0M708.4 534.4h0M659 630.2h0M560.8 625h0M546.8 663.6h0M579.2 515.4h0M714.7 531.3h0M705.3 607.2h0M722.1 544.7h0M723.3 557.3h0M539.3 536.9h0M735.7 583.2h0M706.4 509.5h0M721.4 627.2h0M716.7 619.3h0M656.7 551.8h0M531.8 565.4h0M703.1 540.3h0M711.2 554.4h0M550.5 545h0M625.5 517.1h0M554.5 512.4h0M575.6 535.5h0M642.2 572.1h0M714.6 533.3h0M597.2 494.5h0M603 671.9h0M538 617.9h0M523 631.4h0M577.6 547.4h0M689.4 648.5h0M586.5 536.4h0M676.2 664.8h0M545.9 656.8h0M628.3 630.2h0M554.5 594.2h0M584 544.8h0M631.7 667.9h0M618.1 587h0M651.2 502.1h0M519 554.9h0M620.4 505.2h0M670.1 640.8h0M623.6 577h0M575.3 564.4h0M566.4 610.5h0M636.7 575.5h0M651 676.4h0M526.4 607.8h0M614.7 610.1h0M624.7 540h0M727.6 605.9h0M731 674.9h0M728.2 537.9h0M744.3 650.2h0M655.7 669.2h0M660.2 634.1h0M713.2 531.2h0M570.7 576h0M511.6 519h0M625.7 656.6h0M754.1 533.2h0M524.5 546.1h0M643.9 573.7h0M732.7 619.3h0M581.7 604.8h0M687.5 503.1h0M650.7 551h0M555.6 617.9h0M699.7 512.3h0M734.2 512.8h0M735 497.9h0M734.5 638.1h0M719.6 504.4h0M664.7 498h0M688.3 594.2h0M634.6 581.1h0M714.9 670.9h0M639 629.5h0M711.4 496.8h0M728.7 606.4h0M742.1 648.6h0M604.2 565.7h0M611.1 676h0M511.9 602.9h0M714.2 605.9h0M660 581.4h0M557.4 562.7h0M749.5 653.6h0M618.5 636.4h0M652.2 532.7h0M525.1 581.4h0M676.9 563.8h0M681.1 641.2h0M745.2 510.2h0M545.2 610.1h0M727.1 580.2h0M734.8 595.2h0M541.7 598.9h0M534.2 529.3h0M722.8 614.2h0M675.6 639.8h0M752 587.9h0M535.1 564.8h0M667 533.6h0M677.7 635.3h0M555 533.2h0" stroke="#10c010" stroke-width="3.8" stroke-linecap="round" filter="url(#bl)"/>
<path d="M513.9 543.7h0M589.6 552.7h0M738.6 662h0M556.1 584.7h0M664.4 613h0M518.9 620.8h0M562.3 562.9h0M616 632h0M595.3 514.1h0M636 666.9h0M538.3 639.2h0M525.9 675.8h0M585.9 567.5h0M632.9 569.6h0M608.2 548.4h0M720.3 537.5h0M533.8 645.1h0M652 613.7h0M564 554.2h0M582.7 640.5h0M544.7 497h0M642.7 669.1h0M724.5 499.8h0M663.7 602.3h0M665.9 563.7h0M540.5 558.8h0M628.7 653.6h0M751 650.1h0M660.1 603.4h0M689.9 570h0M570 531.4h0M562.5 540.3h0M709.6 545.5h0M726.6 538.3h0M756.5 574.7h0M536.4 527.7h0M529.3 589.8h0M610.3 501.5h0M661.8 588.8h0M650.8 661.6h0M735.4 582.4h0M683.3 524.2h0M546.3 542.4h0M749.6 498.1h0M575.2 556.3h0M739.1 584.4h0M542.5 603.6h0M605.3 666.2h0M552.1 551.4h0M538.4 565.3h0M670.5 669.3h0M745.2 632.9h0M521.9 508.3h0M675.6 510.1h0M631.2 596.8h0M677 528.5h0M602.9 512.2h0M544.4 674.5h0M514.7 547.2h0M551.9 583.4h0M626.1 628.3h0M732.6 588.3h0M742.5 615.5h0M702.6 491h0M736.4 643.7h0M696.8 605.5h0M656.2 522.4h0M675.8 641.6h0M531.7 565.7h0M630.7 511.9h0M717.6 575.6h0M654.2 648.7h0M658.3 675.2h0M683.9 609.4h0M699.3 541.9h0M562 598h0M638.3 566.1h0M517.7 525.3h0M568.3 660.8h0M597.6 587.1h0M637.9 509.5h0M749.1 548.5h0M676.1 538.3h0M639.8 564.5h0M707.7 519h0M685.4 652.2h0M752.3 493.4h0M623.4 609.1h0M632.3 640.1h0M563.4 600.3h0M520.3 661.4h0M661.9 640.3h0M747.1 585h0M604.8 647.8h0M570.1 647.2h0M734.7 556.1h0M624.5 632.4h0M546.5 499.4h0M734.4 602.5h0M662.7 510.5h0M570 527.4h0M733.5 571.8h0M603.6 603.1h0M679.7 615h0M749.4 494.9h0M577.7 552.3h0M743.2 663.9h0M692.8 522.7h0M710.4 643.1h0M712.5 536.3h0M521.4 495.6h0M541.6 569.3h0M740.3 606.1h0M628.7 648h0M752.9 561.4h0M732.8 533.7h0M746.6 575.3h0M614.3 535.8h0M584 542.2h0M666.5 562.3h0M757.9 519.4h0M642.6 635h0M685.5 573.3h0M598.1 578.4h0M593.3 649.4h0M696 510.8h0M637.9 587.9h0M653.4 639.4h0M620.2 620.6h0M593.3 544.9h0M638.6 634h0M605.7 524.3h0M592 530.6h0M588 544.5h0M579.9 590.4h0M551.3 529.3h0M567.8 591.8h0M558.3 601.2h0M625.6 609.7h0M598.5 517.8h0M568.4 597.6h0M629.3 669.5h0M642.2 650.6h0M653.6 534.4h0M607.4 551.5h0M738.7 541.9h0M556.1 542.8h0M595.3 522.5h0M651.1 604.6h0M604.7 654.6h0M603.1 656h0M627.1 534.8h0M619.9 496.6h0M732.1 521.7h0M632.4 664.5h0M609.1 607.5h0M706.3 588h0M571.2 632.1h0M557.2 492.2h0M681.7 630.8h0M578 548.9h0M666.3 591.8h0M727.1 592.5h0M697.1 585.3h0M715.8 599.8h0M580.3 521.9h0M597.6 648.4h0M598.1 570.3h0M654.6 492.4h0M727.9 580.2h0M644.8 621.6h0M619.2 644.8h0M573.9 531.9h0M551.8 612.9h0M724.3 650.1h0M519.2 665.5h0M537.6 499.2h0M631 528.8h0M708.9 664.1h0M714.2 609.3h0M718.2 518.9h0M643.8 597.9h0M568.6 513.8h0M614.3 507.8h0M626.8 647.6h0M646.7 609.6h0M733.2 611.1h0M675.5 541.1h0M750.9 615.8h0M601.5 575.2h0M537.7 674.5h0M734 650.1h0M545.8 520.6h0M638.9 666.9h0M609.6 618.2h0M714.3 540.4h0M601.7 623.5h0M649.2 515h0M661.5 642.3h0M736.7 580.7h0M653.3 602.5h0M684 498.9h0M753.5 644.6h0M734.6 603.1h0M727.3 529.9h0M702.1 646.4h0M576.6 573.1h0M517.4 640.9h0M691 656.5h0M723.2 595.7h0M607.5 546.6h0M535.5 546.9h0M608.5 557.9h0M745.8 610.6h0M685.9 511.8h0M590.4 493.9h0M640.3 612.7h0M705.5 502.4h0M576 538.3h0M627.4 572.8h0M526.4 504.6h0M572.9 621.6h0M569.3 536.5h0M512.6 613h0M710.6 608.2h0M667.7 566.3h0M706.5 518.1h0M723.5 598.6h0M527.4 604.3h0M694.5 519h0M724.3 649.1h0M608.5 615.5h0M583.4 553.1h0M752 491.7h0M649 592.4h0M737.2 629.8h0M715.7 607.5h0M708 672.2h0M649.8 598.9h0M591.6 669.8h0M514.6 653.9h0M725.9 628.8h0M551.9 491.6h0M692.5 553.4h0M512.8 589.3h0M727.9 672h0M600.9 597.7h0M537 609.2h0M658.4 506.3h0M721.8 521.4h0M551.1 498.6h0M707.1 538h0M620.7 630h0M587.7 591.7h0M604 593.9h0M542.8 490.9h0M731.9 587h0M562.7 629.2h0M585.7 610.2h0M664.1 602.9h0M755 669h0M687.3 510.8h0M563.6 576.5h0M517.8 666.3h0M745.2 604.5h0M715.2 569.5h0M596.1 540.7h0M638.8 536.9h0M717 508.7h0M561 533.4h0M517.8 519.8h0M576.7 623.7h0M700.1 577.1h0M511.7 661.3h0M586.2 523.1h0M590.4 622h0M697.6 562.7h0M709 670.9h0M747.4 532.6h0M624.3 514.9h0M642.9 645.2h0M664.2 498.7h0M542.1 586.9h0M608.6 498.8h0M751.4 615.2h0M529.7 551h0M691.4 540.9h0M648.7 531.9h0M693.1 563.4h0M561.1 598.6h0M620.1 663.8h0M729.7 621.9h0M552.1 601.3h0M747.3 528.9h0M530.5 588h0M750.3 602h0M668.6 518.3h0M546.7 544.8h0M569.7 526.7h0M680.9 528h0" stroke="#22e822" stroke-width="3.8" stroke-linecap="round" filter="url(#bl)"/>
<path d="M576.9 619.3h0M529.2 616.2h0M685.4 532.4h0M629.9 530.7h0M582.8 588.1h0M661.8 552.5h0M635.1 627.6h0M519 627.1h0M681.4 599.4h0M736 629.8h0M621.7 665.5h0M625.9 620.9h0M674.7 620h0M525.5 545.8h0M645 603.6h0M610.3 491.2h0M712.2 513.9h0M584.2 647.4h0M561.2 581.5h0M609.8 661.3h0M753.7 584h0M619 643.7h0M656.9 515h0M695.6 603.2h0M678.9 597.3h0M613.5 601.1h0M753.5 543.1h0M674 661.2h0M675.8 561.2h0M702.5 622.8h0" stroke="#a80c0c" stroke-width="3.6" stroke-linecap="round" filter="url(#bl)"/>
</g></g>
<g><clipPath id="cp3"><rect x="764" y="490" width="250" height="186.5"/></clipPath>
<rect x="764" y="490" width="250" height="186.5" fill="#000"/>
<g clip-path="url(#cp3)">
<path d="M910.9 576.8h0M1008.1 626.6h0M965.4 532.9h0M991.9 606.8h0M871.1 553.7h0M874.2 626.6h0M865.1 566.7h0M875.4 558.7h0M999.9 639.6h0M895.7 667.3h0M957.9 512.8h0M858.5 571h0M891.6 638.3h0M883.3 675.9h0M1007.2 603.9h0M885.6 635.1h0M962.2 609h0M965.1 662.8h0M850.9 523.3h0M1002.4 623.3h0M849.7 576.5h0M859.9 575.3h0M807.8 646.2h0M780.8 606.5h0M991.7 515.1h0M781 572.5h0M765.4 632.6h0M881.1 640.5h0M861.3 574.5h0M900.9 532.3h0M874.3 585.6h0M929.3 560.6h0M935.4 669.2h0M909.1 573.4h0M917.2 491h0M890.1 492.9h0M904.7 523h0M905.3 585.6h0M870.9 512.2h0M951.1 517.2h0M922.9 559.5h0M929.2 616.4h0M772.4 666.3h0M775 643.5h0M1002.7 640.8h0M804.2 605.9h0M980.7 605.4h0M787.2 610.9h0M799.1 626.8h0M855 540.8h0" stroke="#0c3a0c" stroke-width="5" stroke-linecap="round" opacity="0.7" filter="url(#bl2)"/>
<path d="M909.4 659.9h0M918.1 671.5h0M833.5 491.7h0M909 602.6h0M834.4 666.1h0M865.1 557.3h0M932.4 547.3h0M776 606.2h0M921.1 573.5h0M856.9 595h0M933.6 650h0M779.2 580.1h0M1007.4 675.9h0M961.1 551.5h0M780.4 581.6h0M839.5 654.6h0M843.3 514.6h0M818.6 593.6h0M992 505.7h0M956.7 542h0M970.4 535.3h0M904 503.6h0M796.9 662.6h0M792.2 670.4h0M800.4 490.9h0M865.4 608.4h0M864.6 597.3h0M1002 584.7h0M1002 595h0M942.9 513h0M805.6 591.4h0M778.5 503.5h0M841 513.9h0M922 616.6h0M844.5 600.7h0M927.2 642.5h0M860.7 567.5h0M957.4 664.5h0M988 620.2h0M925.9 660.1h0M794.7 612h0M804.8 666.8h0M835.1 660.4h0M834.7 545.4h0M875.2 675.4h0M792.1 618.7h0M826.9 532h0M957.7 554.3h0M870.1 547.1h0M898.7 620.9h0M941.2 538h0M933.2 574.6h0M923.1 662.6h0M1000.8 596.8h0M995.9 597.3h0M930.8 665.8h0M933.6 613.1h0M922 547.9h0M777.1 493.4h0M903.5 645.3h0M1000 551.9h0M907.6 590h0M875.8 573.1h0M946.1 605.2h0M872.5 619.1h0M995.8 600.2h0M995.4 673.4h0M792.2 587.9h0M815.9 537.6h0M949.7 516.4h0M918.7 561.2h0M847 568.6h0M876.2 515.6h0M813.2 631.4h0M847.8 648.2h0M861.7 577.3h0M829.1 558.4h0M884.6 581.1h0M790.7 541.9h0M900.3 502.8h0M830.6 559.8h0M823.8 668h0M845.4 541.3h0M804.8 504.7h0M916.4 603h0M945.5 629.3h0M906.1 516.9h0M839.3 662.2h0M864 586.9h0M783.5 498.5h0M930.4 645.1h0M922.7 608.3h0M851.6 667.9h0M1009.9 645.2h0M772.6 539.3h0M828 525.5h0M992.6 644.8h0M837.6 506.1h0M952.6 511.6h0M858.9 634.5h0M811.9 621.6h0M972.2 493.8h0M893.4 544.8h0M908.2 534.5h0M835.2 618.8h0M788.9 653.5h0M871.1 640.5h0M794.3 661.3h0M964.1 639.1h0M818.7 602.2h0M992.6 623.1h0M968.5 632.6h0M874.1 592.9h0M970 664h0M815.6 559.4h0M967.1 665.4h0M990.8 526.5h0M982.8 522.4h0M972.6 543.6h0M802 599.9h0M848.4 539.8h0M768.5 577.7h0M773.6 513.8h0M896.7 641.3h0M955.1 513.2h0M815.8 503.3h0M930.7 493.1h0M804.2 555.7h0M925.2 644.1h0M1010.3 516.8h0M768.4 557.7h0M924.9 588h0M966.6 515.8h0M783.1 549.8h0M977 605.8h0M825.2 666.1h0M909.4 556.7h0M1000.3 644.5h0M781.4 630.4h0M991.2 604.9h0M939.1 551.3h0M870.5 570.7h0M917.4 562.7h0M907.1 586.2h0M803.3 573.5h0M885.8 654.1h0M872.8 534.3h0M943.3 615.3h0M836.2 521.7h0M807.3 588.2h0M923.2 503.5h0M774.3 585.5h0M1004.9 674.8h0M812.2 509.2h0M891 505h0M917.6 604.9h0M973.6 554h0M917.4 576.3h0M858.2 643.6h0M948 560.1h0M986.1 643.9h0M862 664.6h0M840.9 523h0M920 624.3h0M820.5 546.5h0M911.7 647.4h0M991.6 609.7h0M875.5 655.2h0M1013.3 551.9h0M802.9 676.4h0M800.5 675.1h0M768.9 576.9h0M943.4 554.1h0M898 522.3h0M823.1 504.1h0M1010.2 533.4h0M809.7 672.7h0M929.7 498h0M966 607.9h0M977.7 495h0M928.6 551.4h0M838.3 624.2h0M894.2 650.6h0M1009.1 552.4h0M799.1 635.6h0M885.3 586.6h0M814.3 575h0M783.9 536.3h0M885.5 512.9h0M807.8 542h0M831.9 539.1h0M785 657.8h0M909.3 603.4h0M837.6 522.2h0M780.5 511.1h0M961.3 619.3h0M861.2 572.9h0M766.5 664.4h0M783.9 594.6h0M881.2 610.3h0M994 607.1h0M959 535.4h0M836.5 630.8h0M951.8 624.1h0M860.6 603.1h0M855.1 491.5h0M832.7 663.1h0M776.5 659.5h0M979.9 634.5h0M955.6 571.2h0M1008.9 576.5h0M836.9 540.9h0M853.7 568.4h0M856.3 569.8h0M924.4 588h0M771.6 536.8h0M916.9 549.2h0M966.4 522h0M871.6 615.7h0M791.4 559.5h0M972.3 650.6h0M932.9 596.5h0M805.8 504h0M881.2 593.2h0M794.2 510.8h0M902.2 527.3h0M910 533.6h0M989.8 503.5h0M887.6 588.6h0M908.9 575.4h0M904.6 507.6h0M896 574.8h0M1008.3 661.5h0M892.9 497.6h0M882.9 546.9h0M952.5 633.7h0M995.4 604.3h0M916.1 600h0M933.7 556.1h0M904.3 493h0M778 599h0M794.9 658.7h0M780.4 525.4h0M947.6 569.5h0M842.3 644.7h0M788.3 598h0M967.3 575.5h0M847.9 613.1h0M846.4 594.2h0M840.6 544.6h0M940.7 636.8h0M995.6 494.9h0M949.4 579.1h0M961.1 527.9h0M895.2 598.4h0M829.2 665.1h0M913.4 556.3h0M956 672.3h0M770.7 602h0M768.4 497.7h0M928 629.3h0M824.2 494.9h0M1013.5 614.1h0M870.9 571.1h0M804.2 607.2h0M978.2 662.9h0M810.4 503.6h0M796.2 532.1h0M952.6 596.8h0M951.1 670.8h0M855 668.8h0M920.7 517.2h0M882.9 594.7h0M848.8 586.6h0M900.4 637.7h0M1006.1 526h0M923.3 555.8h0M864.5 610.9h0M1007.8 528.1h0M787.7 498.8h0M923.4 656.5h0M826.3 540.2h0M881.1 582.7h0M815.7 501.2h0M922.5 596h0M934.2 535.6h0M886.8 674.5h0M819.8 617.5h0M766.7 501.5h0M774.7 495.6h0M784.8 509.3h0M918.8 585.5h0M837.6 632.5h0M798.4 664.7h0M1000.5 571.4h0M854.8 564.7h0M905.4 506.9h0M872.1 585.4h0M846.9 594.8h0M926.2 611.6h0M951.8 625.6h0M842.5 556.5h0M964.6 577.3h0M916.7 620.8h0M887.3 588.7h0M908.6 520.7h0M862 523h0M851.1 663.1h0M837.2 525.3h0M819.5 519.3h0M943.2 675.9h0M957.6 646.4h0M884.6 548h0M965.7 492h0M993.5 598.1h0M811.9 515h0" stroke="#14d814" stroke-width="3.8" stroke-linecap="round" filter="url(#bl)"/>
<path d="M865.4 571.8h0M948.1 492.8h0M783.8 538.3h0M1013.2 512.2h0M873.1 577.8h0M972.8 627.3h0M868.5 522.1h0M818.5 580.1h0M782.6 652.7h0M864.4 625.9h0M814.6 565.2h0M946.9 575.5h0M836.6 672.8h0M803.5 493.5h0M992.2 530.9h0M980.8 552h0M923.2 508.5h0M831.8 493.8h0M952.4 632.4h0M810.4 609h0M890.3 617h0M932.6 672.6h0M958 535.6h0M957.2 543h0M972.3 664.9h0M790.9 500.6h0M952.3 492.4h0M975.7 597.6h0M838 580.5h0M789.3 555.2h0M840.6 551.4h0M822.8 613.3h0M896.5 595h0M976 498.2h0M872.1 615h0M909.7 528.4h0M977.5 650.5h0M1000.3 649.6h0M993.6 501.2h0M880.3 666.1h0M930.1 552.6h0M767.9 615.6h0M978.7 624.7h0M815.5 497.6h0M999.4 569.2h0M1009.8 531.3h0M933.4 648.4h0M930.6 634.4h0M819.2 584h0M910.6 586.1h0M834.6 637.9h0M782.5 632.9h0M938.5 577.6h0M919.8 580.9h0M783.3 667.3h0M789.6 660h0M929 581h0M799.1 576.2h0M902.4 520.4h0M995.3 552h0M791.8 507.7h0M983.1 642.4h0M768 604.5h0M772.7 609.9h0M786.1 501.1h0M783 490.1h0M875.3 663h0M953.3 519.5h0M990.7 576.1h0M951.1 641.2h0M815.7 500.4h0M851.1 588.8h0M982.6 510.1h0M836.3 519.3h0M1003.5 597h0M790.1 657.6h0M868.5 520.1h0M881.9 658.2h0M812.2 533.9h0M968.6 615.5h0M882.5 619.9h0M873.6 585.9h0M999.2 599.5h0M817.4 606.3h0M926.2 635.4h0M886.7 670.1h0M796.4 565.9h0M945.4 519.5h0M1001.2 538.5h0M815.5 528h0M1011.5 676h0M783.1 512.4h0M918.4 556h0M1000.5 636.6h0M993.4 646.7h0M947.1 576.6h0M976.8 601.1h0M931.4 648.9h0M908.4 531.5h0M792.9 599.8h0M917.2 584.7h0M837.1 501.7h0M845.7 511.8h0M961.1 507.7h0M851.2 638.2h0M825.3 540.8h0M808.5 653.4h0M972.3 590.8h0M820.5 672.9h0M850.4 541.6h0M858.6 553.1h0M1003.1 614.9h0M851.9 662.4h0M864.8 615h0M796.4 637.8h0M1000.1 576.4h0M933.8 554.3h0M1000.1 567.8h0M939.9 649h0M949.5 570.2h0M799.3 639.8h0M932.5 628.7h0M938.2 490h0M971.1 584.9h0M908.1 671h0M945 665.3h0M907 573.3h0M926.6 602.4h0M984.1 551.8h0M870.5 543.7h0M893 508.6h0M845.7 558.7h0M914.4 641.4h0M794.8 549.4h0M900.2 619.1h0M890 659.7h0M883.1 595.1h0M1001.2 644.1h0M768.5 670.9h0M1011.8 676.1h0M940.4 571.1h0M804.9 587.3h0M793.7 588.3h0M960 625.3h0M885.9 552.9h0M778.3 554.3h0M987.2 545.9h0M815.1 656.8h0M1012.4 501.3h0M773.9 528.5h0M919.3 543.3h0M768.2 618.3h0M992.9 534.6h0M874.7 527.2h0M829.3 574.9h0M986 490.3h0M929.3 493.6h0M988.2 514.6h0M921.2 634.2h0M971.5 671h0M918.1 499h0M890.9 621.2h0M832 628h0M891.1 640.2h0M817.3 646.9h0M962.6 554h0M852.1 672h0M898.6 650h0M926.2 496.2h0M996.6 551.2h0M896.3 645h0M878.6 674.6h0M827.2 547.7h0M946.3 643.1h0M968.8 663.3h0M998.9 526.5h0M816.9 521.1h0M1003.4 593.4h0M835 563.7h0M782.9 514.5h0M930.4 662.5h0M885 491.3h0M964.6 515.4h0M964 670.3h0M1011.5 619.3h0M902.1 636.9h0M958.5 568.9h0M977.9 592.9h0M886.2 645.5h0M953.5 614.1h0M970.9 563.7h0M989.7 610.7h0M821 563.4h0M819 616.9h0M1009.4 517.6h0M994.3 654.8h0M790.7 518.3h0M982.5 614.3h0M898.6 549.6h0M810.1 490.9h0M1010.4 556.9h0M929.5 530.6h0M922.9 533.4h0M903 538.7h0M830.9 536.9h0M803.4 497.5h0M973.5 646.3h0M813.8 662.4h0M936.2 636.8h0M870.5 509.9h0M801.2 661.6h0M918.1 633.9h0M837.8 528.1h0M794.2 512.5h0M954.2 538.5h0M861.7 593.7h0M799 521.8h0M780.4 667.4h0M929.6 501.9h0M914.2 644h0M933.1 544.8h0M968.8 574.7h0M986.8 585.3h0M805.3 630.2h0M997.5 504.1h0M1005.5 532.9h0M987.1 576h0M802.2 490.4h0M965.1 500.3h0M833.7 625.1h0M795 611.7h0M945.8 493.3h0M799 636.9h0M895 589.7h0M774.3 618.4h0M861.2 622.1h0M796.5 551.7h0M832 535h0M947.8 555.8h0M944.8 619.4h0M833.1 522.4h0M940.5 638.7h0M823.2 520.3h0M875.7 498.2h0M862.4 671.8h0M921.7 538.2h0M784.5 559.7h0M806.6 642.3h0M895.7 521.7h0M852.4 575.2h0M813.8 562.2h0M923 602.9h0M923.1 635.6h0M862.4 592.4h0M981.3 523.7h0M902.1 509.6h0M899.5 565.2h0M963.5 552h0M920.3 499.5h0M825.9 548.5h0M890.5 571h0M766.7 650h0M962.6 640.2h0M813.3 510.5h0M797.5 635.2h0M867.2 519.6h0M910.9 665.8h0M839.6 631.3h0M977.5 616.5h0M804.6 622.7h0M799.7 491.1h0M849.8 610.7h0M966 612.5h0M809 553.7h0M886 506h0M878.4 596.1h0M922.1 547h0M859.9 640.5h0M812.5 667.7h0M986.9 633.4h0M951.1 657.9h0M886.1 504.8h0M832.6 634.1h0M980.6 654.9h0M939.7 557h0M775.2 506.9h0M856 595.3h0M936 514.7h0M802.8 498.7h0M811.5 501.6h0M983.2 514.2h0M969.1 554.5h0M1012.4 531.4h0M1003.1 517h0M820.3 510.5h0M821 582.4h0M961.3 494.7h0M895.1 559.3h0M992.4 511.2h0M922.4 556.2h0M949.6 667.7h0M1000.5 648h0M893 655.6h0M849.7 602.3h0M856.6 493.7h0M954 546.7h0M959.6 573.7h0M825.5 512.2h0M799.9 558.4h0M982.6 514.7h0M942.2 593.5h0M899.7 634.6h0M933.2 519.4h0M989.1 661.7h0M937 571.2h0M979.7 593.3h0" stroke="#10c010" stroke-width="3.8" stroke-linecap="round" filter="url(#bl)"/>
<path d="M883.7 590.7h0M991.6 496.7h0M1005.2 583.2h0M952.7 635.5h0M792.2 548.6h0M923.9 588.4h0M1002.9 638.6h0M921.4 565.3h0M930.2 662.8h0M782.4 592.1h0M907.3 555.8h0M811.5 594.5h0M980 626.2h0M964.6 553.8h0M1006.4 634.8h0M926.9 500.6h0M848.9 574.4h0M862.1 641.4h0M837.9 549.4h0M985.3 491.6h0M924.2 520.9h0M827 564.5h0M776.8 531.9h0M942.9 546.1h0M940.6 491.3h0M846.3 649.2h0M829 533.9h0M861.7 492.3h0M810.7 502.8h0M1004.6 494.5h0M766.4 603.5h0M1003.5 590h0M910.1 569.9h0M861.6 568.5h0M933.2 510.3h0M783.2 557.1h0M902.9 582.4h0M922.2 665.5h0M811.9 644.5h0M951.4 611.6h0M879 655.9h0M850.4 639.5h0M835.8 622.5h0M958.3 645.1h0M854.7 505.5h0M936.3 545h0M811.7 649.6h0M871.7 596.3h0M857 604.2h0M856.5 601.9h0M914.7 546.1h0M971.4 507.6h0M995.5 523.1h0M800.2 588.3h0M1012.8 518.7h0M804.2 577h0M963.8 648.6h0M834.5 669.7h0M945.2 539.1h0M997.8 601.1h0M910.9 588.1h0M919.9 510.6h0M883.6 582.7h0M776.3 529.1h0M876.3 663.2h0M1006.6 636.4h0M864.3 672.7h0M1004.2 596.6h0M903.1 583.4h0M969.2 627.4h0M919.5 620.7h0M1009.8 673.4h0M972.9 545.8h0M811.5 516.6h0M776.2 561.2h0M877.6 620.7h0M950.1 618h0M954 629.9h0M871.6 653.7h0M859.6 625.5h0M878.4 513.6h0M855.9 572.1h0M851.8 536.4h0M903.4 524.8h0M980.4 563.1h0M960.8 599.8h0M893.1 653.1h0M973.9 618h0M1002.8 587.5h0M780.2 546.7h0M962.3 500.2h0M958 509.4h0M842.6 509.7h0M950.1 666.5h0M881.6 568.7h0M785.1 634.1h0M890.7 645.8h0M879.4 596.3h0M816.1 521.2h0M823.1 502.9h0M936.9 524.3h0M874.8 618.3h0M906.9 593.1h0M847.9 614.9h0M970.8 577.2h0M921.4 495.7h0M780.8 517.4h0M942.2 543.4h0M955.8 624.8h0M785.4 554.3h0M934 490.3h0M870 575.2h0M919 513.9h0M933.4 558.4h0M929.8 568.2h0M818.3 608h0M876.1 584.4h0M920.4 559.4h0M911.5 630.2h0M939.6 524.2h0M1001.4 515.8h0M770.2 509.4h0M911.6 615.1h0M772.9 537.3h0M859 503.7h0M924.4 524.7h0M941 604.2h0M922.5 518.2h0M931 494.6h0M898.3 568.9h0M977.9 551.9h0M770 563.7h0M901.2 570.9h0M942.9 656.8h0M923.2 656.4h0M935.6 524.9h0M802.1 496.1h0M799.5 646.5h0M926.8 538.9h0M766.4 663.9h0M890 563.4h0M785.5 587.9h0M1010.5 620.5h0M950.1 492.1h0M878.7 637.9h0M854.7 600.4h0M862.4 557.6h0M946.5 657.2h0M864 544.8h0M1013.9 506.9h0M894.9 525.9h0M885.5 501.3h0M972.7 544.1h0M840.4 550.9h0M775.8 599.2h0M972.8 613.2h0M933.1 668h0M764.9 545.5h0M777.5 529.5h0M880.1 669.5h0M865.7 608.7h0M934.2 643.1h0M826.4 663.6h0M868.5 496.6h0M893.9 512.3h0M819.9 586.9h0M889.2 498.3h0M776.2 509.9h0M1001.1 617.3h0M954.7 635.2h0M875.2 649.5h0M917.6 664.3h0M974.4 526.9h0M773.8 506.2h0M934.3 666.5h0M768.4 550.3h0M955.4 636.6h0M780.9 535h0M772 552.5h0M949.1 560.3h0M797.1 490.6h0M898.5 525.7h0M818.9 617.8h0M814.7 557.4h0M853.8 663h0M973.4 578.9h0M828.4 527.8h0M867.4 659.9h0M882 567.5h0M784.7 512.3h0M856.6 643.2h0M918.7 632.5h0M917.3 589.5h0M949 553.8h0M995.6 603.5h0M999.2 518h0M791.5 653.5h0M822 589.7h0M823.7 554.3h0M967.4 505.8h0M968.4 620.9h0M872.9 507h0M1006.7 505.8h0M870.1 666.4h0M991.2 500.4h0M841.3 615.7h0M901.4 614h0M767.9 554.4h0M797 573h0M868.8 635.8h0M978.4 612h0M927.2 530.1h0M818.3 615.3h0M940.4 557.5h0M979.6 638.6h0M856.4 560.6h0M977 673.6h0M859.2 515.6h0M890.3 653.5h0M1004.2 594.7h0M831.2 612.4h0M990.5 586.1h0M804.3 598.4h0M1001.9 494.6h0M887.2 611.2h0M910.3 527.6h0M980.1 507h0M910.3 662.9h0M875.1 647h0M789.7 509.9h0M789 505.8h0M895 515.7h0M935 625.6h0M978.8 500.6h0M874.2 574.8h0M959.9 610.7h0M923.4 546h0M922.5 670.6h0M874.8 637.2h0M878.2 504.2h0M978.9 588.2h0M830.9 492.8h0M852.3 643h0M929.5 496.1h0M784.3 493.8h0M765.9 508h0M987.4 623.4h0M978.8 554.8h0M942.1 655.9h0M809.6 515.6h0M935.3 613.5h0M874 603.7h0M940.5 539h0M981.3 539.1h0M951 673.9h0M859 647.8h0M866.4 533.7h0M838.4 651.5h0M864.7 661.6h0M882.4 658.7h0M880.2 566.5h0M1000.5 535.4h0M766.7 645.1h0M996.3 604.2h0M888.5 668.5h0M921.4 512.5h0M804.5 516.8h0M890.7 622.7h0M946.1 657.9h0M814 658.7h0M766.2 548h0M887.4 671.4h0M1001.2 608.1h0M1013.9 512.3h0M881.1 521.4h0M800.1 557.2h0M930.8 616.2h0M816.3 669.7h0M843.4 592.8h0M956 502.7h0M774.9 601.5h0M884.7 580.2h0M765.6 532.2h0M815.3 497.1h0M949.8 502.9h0M878.4 494.1h0M943.6 510.4h0M989.8 631.6h0M911.1 671h0M775.2 634.9h0M962.9 542h0M988.3 571.5h0M853.4 548.4h0M971.2 543.7h0M776.5 663h0M916.9 550.3h0M934 549.8h0M873.3 579.8h0M843.2 552.5h0M956.2 634.7h0M885.9 653.1h0M927.5 535.7h0M895.3 657.2h0M996.2 549.8h0M986.3 620.6h0M1006.1 526.6h0M907.8 497h0M890.6 525.5h0M961.9 640.1h0M882.7 635.7h0M814.7 550.1h0M795.2 585.5h0M788.5 508.1h0M826 547.9h0M806.1 659.3h0M1010.1 610.3h0" stroke="#22e822" stroke-width="3.8" stroke-linecap="round" filter="url(#bl)"/>
<path d="M946.4 644.9h0M968.2 604.9h0M821.4 570.1h0M766.5 556.1h0M816.8 575.8h0M862.3 666.4h0M890.9 490.3h0M980.3 535.7h0M995.3 644.7h0M934.7 632.6h0M985 657.2h0M833 496.3h0M831.2 538.6h0M1013.1 639.8h0M776.1 538.1h0M863.2 667.8h0M931.3 606.4h0M966.3 530.5h0M812.1 544.8h0M956.2 640h0M782.7 666.1h0M843.5 582.8h0M959.8 674.5h0M927.1 522.2h0M868.2 597.2h0M916.9 508.1h0M853.5 493.6h0M838.1 637.5h0M915.9 490.8h0M932.9 673.9h0M892 656.8h0M770.8 558.6h0M804.7 629.7h0M1010.3 588.4h0M931.5 563.7h0" stroke="#a80c0c" stroke-width="3.6" stroke-linecap="round" filter="url(#bl)"/>
</g></g>
<g><clipPath id="cp4"><rect x="1019" y="490" width="249" height="186.5"/></clipPath>
<rect x="1019" y="490" width="249" height="186.5" fill="#000"/>
<g clip-path="url(#cp4)">
<path d="M1220.7 598h0M1144.7 564.4h0M1236.5 506.8h0M1216.8 571h0M1199.8 559.8h0M1070.9 585.2h0M1048.3 570.2h0M1163.5 661.5h0M1180.9 571.4h0M1244.2 663.7h0M1145.2 565h0M1047 648.7h0M1253.3 619.9h0M1141 601.5h0M1178.7 601.4h0M1192.1 582.5h0M1231.5 552.8h0M1108.4 605h0M1141.9 540.8h0M1153.4 616.7h0M1050.8 590.7h0M1036.6 574.6h0M1242.2 498.5h0M1196.7 650.1h0M1143.2 620.5h0M1160.7 628.5h0M1020 671.7h0M1114.5 666.5h0M1060.4 572.6h0M1248.4 622.7h0M1240.7 499.1h0M1095.1 645.6h0M1224.4 647.2h0M1236.7 668.1h0M1041.5 648.2h0M1243.2 615.2h0M1092.1 580.2h0M1095.7 537.9h0M1164.2 605.8h0M1172.3 664h0M1206.5 511.9h0M1173.1 663.7h0M1244.2 671.9h0M1209.6 495.3h0M1200 585.6h0M1124.7 620.9h0M1202.5 546.8h0M1221.2 642.7h0M1043.7 600.6h0M1105.2 509.4h0" stroke="#0c3a0c" stroke-width="5" stroke-linecap="round" opacity="0.7" filter="url(#bl2)"/>
<path d="M1205.6 612.8h0M1036.1 538.9h0M1089 563.2h0M1166 608.5h0M1205.9 545.4h0M1123.2 621.5h0M1178.5 496.6h0M1068.8 551.1h0M1255.3 565.6h0M1070.9 665.2h0M1264.2 595.8h0M1163.6 581.1h0M1031 508.4h0M1064.3 529.4h0M1255.7 568.8h0M1198.3 564.1h0M1074.1 640.6h0M1254.8 528.2h0M1109.3 540.9h0M1125.3 563.5h0M1100 500.5h0M1127.2 494.7h0M1199.8 612.2h0M1086.1 646.7h0M1232.9 676.2h0M1124 627.1h0M1144.8 505.2h0M1188.4 492.6h0M1247.2 623.4h0M1214.4 648.5h0M1153.3 615.5h0M1085.6 618.9h0M1156.2 549.4h0M1152.5 660.4h0M1257.4 546.3h0M1216.4 554.5h0M1053.7 608.1h0M1107.7 565.5h0M1109.7 555.7h0M1047.4 501.6h0M1222.8 674.9h0M1202.4 494.5h0M1208.4 540.9h0M1193.2 602h0M1138 633.5h0M1199.4 600h0M1249.8 508.4h0M1211.8 646.9h0M1093.9 599.5h0M1144.6 544.9h0M1076.4 624.6h0M1092.1 622.4h0M1061.8 565.9h0M1219.6 537.8h0M1213.5 507h0M1056.1 672.5h0M1202.4 501.5h0M1183.5 565.2h0M1146.8 584.5h0M1107.8 670.1h0M1172.9 491.4h0M1093.6 545.5h0M1170.9 619.5h0M1177.5 516.7h0M1104.8 549.2h0M1224.3 514.9h0M1092.8 568.3h0M1151.2 640.8h0M1084.4 577.8h0M1028.6 565.7h0M1249.9 545.7h0M1190.4 551.4h0M1167.5 639.1h0M1091.2 628.7h0M1153.1 549.2h0M1253.9 521h0M1121.2 536.8h0M1164.3 540.7h0M1241.7 639.2h0M1219.3 564.3h0M1084.9 616.5h0M1188.5 530.4h0M1132.7 544.2h0M1166.6 499.4h0M1163.3 653.2h0M1061.3 619.5h0M1205.3 673.2h0M1153.1 597.8h0M1148.4 538.3h0M1209.2 554.6h0M1115.5 540.9h0M1098.1 535.1h0M1100.9 521.8h0M1124.8 492.5h0M1105 642.6h0M1121.3 561.4h0M1065.8 611.6h0M1256.9 618.9h0M1061.9 609.9h0M1161.5 502.9h0M1039.3 560.4h0M1099.7 656.9h0M1083.1 490.1h0M1071.1 532.9h0M1047.7 563.4h0M1072.4 625.3h0M1149.8 490h0M1157.7 635.3h0M1137.5 576.9h0M1046.3 522.7h0M1064.1 556.2h0M1237.7 588.8h0M1107.4 618.7h0M1159.5 661h0M1195.3 559.6h0M1041.3 604.2h0M1097.1 575.1h0M1022.5 526.3h0M1256.7 515h0M1032.2 635.2h0M1158.1 545.5h0M1243 570.9h0M1108.4 502.3h0M1025.3 578.3h0M1214.2 531.4h0M1194 649.2h0M1194.7 544.7h0M1054.1 559.7h0M1107 589.4h0M1068.7 551h0M1186.5 558.3h0M1055.8 584.9h0M1038.3 647.1h0M1138 517.2h0M1229.6 538h0M1039.2 669.6h0M1207.1 512.4h0M1239.6 647.5h0M1070 533.7h0M1197.4 586.3h0M1246.7 501.5h0M1146.2 599.9h0M1192.9 587.9h0M1191.7 550.6h0M1032.2 666.9h0M1213.2 617.1h0M1069.5 662.5h0M1139.7 513h0M1186.9 658.9h0M1132.1 503.6h0M1227.2 611.1h0M1058.1 612.3h0M1166.8 618.4h0M1021.7 601.3h0M1193.6 618.6h0M1068.4 598.5h0M1086.8 593.1h0M1097.2 553.5h0M1187.1 613.5h0M1154.3 598.6h0M1117.7 503.1h0M1158.5 650.1h0M1073.6 597.3h0M1135.6 607.2h0M1149.4 537.5h0M1091.4 517.3h0M1053.7 500.8h0M1106.1 577.7h0M1234.4 505.9h0M1126.8 546.1h0M1033.7 587.9h0M1184.7 603.5h0M1111.3 627.1h0M1170.6 672.9h0M1079.3 636.9h0M1169.6 666.9h0M1173.4 595.1h0M1208.3 532.3h0M1067.2 590.5h0M1087.2 571.9h0M1170.2 514.6h0M1063.7 612.5h0M1143 513.2h0M1126.4 627.6h0M1042.6 675.8h0M1170.4 666.1h0M1144.7 516.5h0M1149.6 500.7h0M1240 513h0M1220.1 650.5h0M1216.3 673.5h0M1167.6 498.1h0M1020.8 527.5h0M1109.7 503.5h0M1200.1 558.5h0M1134.5 556.4h0M1090.8 516.8h0M1060.4 615.1h0M1149 552.4h0M1155 534.2h0M1169.2 622h0M1042.4 582.4h0M1028.1 580.2h0M1243.7 506.9h0M1213 549.2h0M1218.7 668.7h0M1233.2 507.7h0M1144.3 496.1h0M1242.3 621.2h0M1029.4 639.9h0M1092.5 553.5h0M1213.8 518.5h0M1208.4 670.6h0M1072.3 566.6h0M1229.6 601.2h0M1073.6 602.4h0M1200.6 629.8h0M1031.6 552.1h0M1161.4 544.9h0M1130.9 594.9h0M1145.9 588h0M1065.3 562h0M1134.1 540.7h0M1033 543h0M1019.9 670.8h0M1237 530.1h0M1072.5 565h0M1184.1 510.8h0M1257.8 593.6h0M1106 665.8h0M1101.9 633.7h0M1207.8 547.5h0M1221.6 526.3h0M1247.9 607.4h0M1159.7 621.9h0M1217.7 628.2h0M1257.8 548.2h0M1164.3 560.7h0M1203.4 549.7h0M1114.6 564.2h0M1050.3 630.3h0M1185.3 665.1h0M1085.1 654.2h0M1112.7 532.3h0M1238.7 560.4h0M1081 606.3h0M1253.1 583h0M1142.8 646h0M1078 496.6h0M1198.4 525.5h0M1079.8 611h0M1132 605.1h0M1200.2 645.9h0M1151.2 648.4h0M1029.4 670.8h0M1241.9 650h0M1021 651.8h0M1102.2 543.2h0M1157.4 665.6h0M1228.4 655.2h0M1215.7 631.1h0M1219.6 493.3h0M1156 660.3h0M1223.8 640h0M1166.5 630.1h0M1182.6 596.5h0M1099.9 490h0M1039.5 574.8h0M1197 587.2h0M1181 640.3h0M1162.4 642.9h0M1112.6 673.6h0M1224.7 511.6h0M1226.1 545.8h0M1104.1 666h0M1186.8 644.6h0M1256.5 666.2h0M1210.5 633.6h0M1104.4 627.5h0M1029.5 528.6h0M1224.1 508.8h0M1052.6 616.4h0M1162.7 613.8h0M1163.5 506.5h0M1067 641.1h0M1111.3 623.9h0M1122.2 535.7h0M1075 545.3h0M1033.9 585.7h0M1228.9 636.2h0M1172.7 602.1h0M1188.9 600.2h0M1200.1 518.6h0M1225.5 574.9h0M1134 640.3h0M1201.1 587.1h0M1194.7 604.9h0M1180.6 494.1h0M1211.2 651.1h0M1190.9 642.5h0M1065.7 628h0M1166.5 645.6h0M1176.6 557.3h0M1143.6 506.3h0M1109.5 556.4h0M1267.1 531h0M1145.6 636.9h0M1026.3 662h0M1248.2 532.6h0M1132.2 570.3h0M1070.3 636.7h0M1145.2 559.5h0M1206.8 642.6h0M1021.8 518.5h0M1188.5 627.4h0M1191.2 553.6h0M1076.3 492.3h0M1250 514.3h0M1166.3 658.2h0M1252.9 668.5h0M1059.1 667.3h0M1254.4 527.1h0M1087 526.5h0M1137.3 528.7h0M1179.8 628.9h0M1070.8 674.7h0M1183.5 576.7h0M1230.1 500.4h0M1121.9 668.5h0M1046.2 500.9h0M1168.6 587.3h0M1138.6 648.7h0M1196.7 534h0M1119.9 490h0M1046.4 612.4h0M1072.9 626.8h0M1250.7 501.9h0M1208.9 586h0M1070.8 578.8h0M1217.7 576.9h0M1119.8 610.7h0M1148 613h0M1110.7 566.3h0M1247.7 592.1h0M1129.2 582.2h0M1106.3 578.8h0M1035.5 642.3h0M1039.5 584.2h0M1096.8 521.9h0M1165.1 663.2h0M1035.3 609.9h0M1193.9 581.5h0M1107.6 667.3h0M1130.7 667.6h0M1069 623h0M1180.3 551.3h0M1048.3 587.7h0M1057.2 604.4h0M1253.3 540.6h0M1121 575.3h0M1266.9 675.4h0M1267.4 501.3h0M1070.5 598.8h0M1130.2 542.7h0M1043.9 577.9h0M1142.5 500h0M1245.8 545.7h0M1131.5 629.2h0M1022 630.5h0M1232.4 616.4h0M1112.5 545.9h0M1238.3 605.6h0M1159.9 530.2h0M1193.7 594.9h0M1043.9 552.9h0M1087.9 601.6h0M1115.3 540.8h0M1099.9 585h0M1240.6 557.5h0M1162.8 549.6h0M1104.9 493.2h0M1251.2 509.4h0M1263.3 619.4h0" stroke="#14d814" stroke-width="3.8" stroke-linecap="round" filter="url(#bl)"/>
<path d="M1082 611.2h0M1216.4 545.1h0M1188.4 593.6h0M1125.5 507h0M1222.7 610.4h0M1085.4 542.6h0M1073.3 633.7h0M1050.2 650.2h0M1090.1 511.7h0M1134.1 634.2h0M1077.9 627.5h0M1055.1 519.7h0M1186.7 590.2h0M1154.2 529.5h0M1217.1 569h0M1175.2 549.1h0M1136.4 596.4h0M1031.1 674.2h0M1034 548.7h0M1220.8 513.1h0M1089.8 543.1h0M1086.9 587.8h0M1119.5 522.8h0M1019.2 531.2h0M1203.2 532h0M1112.8 506h0M1156.4 517.9h0M1217.1 545.3h0M1252.6 552.7h0M1120.4 557.7h0M1059.5 495.5h0M1063.7 644.9h0M1088.8 565.3h0M1210.4 644.6h0M1155.6 658.5h0M1116.5 552.3h0M1204.7 634.6h0M1137.2 655.6h0M1122.8 559.8h0M1113.1 644.8h0M1043.5 562.2h0M1210.3 658.2h0M1186.9 579.1h0M1189.3 654.8h0M1115.8 583.6h0M1191.8 587.7h0M1133.7 509.5h0M1236.7 625.1h0M1116.7 651.6h0M1036.7 646.7h0M1138.1 499.2h0M1223.2 591.5h0M1156.8 675.2h0M1080.2 513.7h0M1121.9 537.8h0M1028.9 631.4h0M1061.5 641h0M1150.4 659.9h0M1092.9 573.2h0M1229 562.7h0M1110.7 539.6h0M1065.5 609.8h0M1152.1 515.9h0M1124.3 592.9h0M1166.3 592.2h0M1126.4 505.2h0M1232.2 618.2h0M1212.1 586.9h0M1257.2 532.4h0M1194.2 604.3h0M1172.6 634.6h0M1124.3 571.2h0M1141.9 491.5h0M1181.7 610.8h0M1209.3 519.6h0M1141.2 666.4h0M1175.9 595.4h0M1094.3 616.9h0M1241.7 590.4h0M1199.9 494.5h0M1116.3 567.6h0M1157.6 615.1h0M1127.6 579h0M1248.5 633h0M1131.8 632.4h0M1168 506.3h0M1111.3 554.2h0M1267.8 493h0M1135 586.3h0M1102.2 642.9h0M1085.6 545.8h0M1118.2 516.1h0M1127.8 613.8h0M1172.7 518h0M1067.7 557.3h0M1261.8 505.5h0M1227.2 495.4h0M1179.5 588.6h0M1112.2 546.9h0M1138.5 520h0M1142.3 539.1h0M1144.3 653.7h0M1164.8 658.5h0M1231.7 575.2h0M1117 568.1h0M1133.8 527.5h0M1212.4 520.6h0M1061.7 521.4h0M1213.5 611.6h0M1092.8 529.5h0M1067.1 531.9h0M1163.5 521.3h0M1229.7 615h0M1158 528.4h0M1222.1 629.9h0M1054.6 597.6h0M1209.5 532.8h0M1110.6 538h0M1214.8 526.9h0M1207.3 600.3h0M1043.1 566.1h0M1222.5 574.8h0M1060.8 660.5h0M1168 664.6h0M1167.7 654.6h0M1224.6 644.4h0M1232.1 643.7h0M1107.6 507.2h0M1249.1 512.8h0M1250.2 542.2h0M1084.3 597.1h0M1070.1 610.7h0M1083.3 560.2h0M1204.1 493.5h0M1072.3 610.8h0M1223.2 621h0M1185.8 530.2h0M1073.4 536.5h0M1051.8 666.1h0M1216.1 555.8h0M1237.4 591.1h0M1199.8 553.9h0M1115.7 607.2h0M1219.3 631.5h0M1224.7 598.2h0M1066.1 612.5h0M1051.8 575.3h0M1198 511.5h0M1057.6 596.8h0M1081.6 642.3h0M1078.3 646.1h0M1058.4 667.9h0M1065 602.7h0M1140.8 624.2h0M1092.4 543.4h0M1079.7 610.3h0M1252.8 530.8h0M1261.2 516.6h0M1258.4 576.1h0M1245.3 635.6h0M1165.3 512.3h0M1059.3 627.8h0M1140.4 621.9h0M1163.9 647.6h0M1062.1 641.1h0M1027.4 519.5h0M1208.1 572.1h0M1111.2 590.6h0M1180.5 504.4h0M1177 510.3h0M1218 660.5h0M1081.8 622.3h0M1048.2 610.2h0M1148.6 599.3h0M1155.4 623.5h0M1174.5 591.5h0M1255.8 543.8h0M1137.4 661.7h0M1028 617.3h0M1253.7 643.2h0M1218.4 662.6h0M1046 579.8h0M1222.7 577.1h0M1132 652h0M1145.1 496.7h0M1031 620.4h0M1075.6 627.3h0M1141.4 612.3h0M1168.5 639.3h0M1027 495.9h0M1020.3 609.5h0M1082.3 622h0M1245.3 557.6h0M1209.3 532.8h0M1233.5 533.2h0M1086.5 547.2h0M1140.3 587.3h0M1193.6 569.3h0M1209.4 492.3h0M1198.3 513.9h0M1130.9 676h0M1163.3 659.5h0M1251.8 531.6h0M1154.8 526.2h0M1245.7 662.9h0M1118.6 547.5h0M1077.4 637.1h0M1244.5 631.3h0M1150.5 670.7h0M1147.6 589.2h0M1152.9 546.1h0M1190.1 532.3h0M1100.7 562.9h0M1191.1 563.1h0M1109.3 646.4h0M1163.7 547.1h0M1106 543h0M1110.4 675.1h0M1144.2 637.4h0M1113.8 589.8h0M1241.5 545.4h0M1107.3 522.7h0M1046.6 619.5h0M1082.7 656.6h0M1079.2 653h0M1187.4 644.3h0M1089.1 629.3h0M1195.5 638.2h0M1115.7 515.1h0M1074.9 538.5h0M1106.5 538.3h0M1022.3 568.3h0M1229.3 601.3h0M1146.2 562.2h0M1054.7 593.3h0M1063.1 530.1h0M1026.8 547h0M1243.5 516h0M1241.7 650.5h0M1139.2 673.5h0M1115.6 593h0M1167.4 654.2h0M1103.4 595.3h0M1036.2 629.9h0M1168.4 574.8h0M1262.8 580.6h0M1040.7 634.3h0M1059.5 532h0M1237.1 627h0M1025 515.5h0M1068.9 623.7h0M1233.7 673.1h0M1022.8 504.4h0M1220.1 494.3h0M1247.7 514h0M1196.1 532.9h0M1102.5 563.8h0M1126.5 598.5h0M1065.7 619.7h0M1104.2 553.7h0M1054.4 627.4h0M1235.9 584.5h0M1084.4 629.3h0M1088 537.5h0M1213.7 653.7h0M1203.3 586.8h0M1204 547.2h0M1054.9 574.1h0M1130.7 557.7h0M1043.8 675.6h0M1049.9 634.8h0M1173.8 502h0M1116.2 563.8h0M1237.9 668.6h0M1193.8 641.8h0M1082.1 675.6h0M1119.8 599.6h0M1113.7 523.2h0M1227.8 656.6h0M1149.1 670.2h0M1089.2 617.9h0M1125.5 546.2h0M1240.2 531.5h0M1206.2 574.8h0M1257.5 560.9h0M1144.9 659.2h0M1235.4 519.7h0M1155.4 654.1h0M1166.4 554.8h0M1242.8 495.5h0M1145.5 620.9h0M1028.6 502.2h0M1200.8 553.2h0M1218.1 644.2h0M1091.2 492.7h0M1252.6 647h0M1078.7 630.9h0M1242.1 570h0M1052.2 638h0M1225.5 557.1h0M1091.4 537.2h0M1127.9 622.2h0M1229.4 617.2h0M1248.8 651.5h0M1095.9 572.8h0M1161.1 585h0M1047.1 675.8h0M1118.7 551h0M1099.5 633.9h0M1083.2 590h0M1186.7 605.5h0M1167.9 665.1h0M1112.8 600.6h0M1087.6 543.7h0M1207.2 555.4h0M1124.7 567.7h0M1201.6 665.9h0M1104 538.5h0M1096 530.6h0M1259.5 652.7h0M1079.7 599.9h0M1072.4 566.1h0M1135.5 555.2h0M1026.2 652.5h0M1188.1 659.7h0M1138.9 550.8h0M1201.4 618.2h0M1090.3 608.5h0M1103.2 667.4h0M1236.2 609.1h0M1039.4 595.9h0M1148.9 517.8h0M1222 524.5h0M1174.4 504.8h0M1174.9 642.3h0M1065.6 607h0M1160.1 523.4h0M1094.6 538.3h0M1106.2 562.8h0M1127 612.6h0M1213.3 553h0M1063.8 618.4h0M1056.3 504.6h0M1246.5 537.5h0M1067.1 607.4h0M1236.9 550.7h0M1228.4 613.1h0M1264.7 514.1h0M1143.9 630.1h0M1094.6 537.3h0M1143.2 608.1h0M1145.4 490.7h0M1097.4 620.6h0M1124.7 588.8h0M1251.2 675.6h0M1060 631.5h0M1066.8 654h0M1169.7 542.7h0M1266.1 611.7h0M1041.6 625h0M1123.1 530.3h0M1032.6 603.5h0M1057.6 604.3h0M1119.8 513.1h0M1034.9 659.9h0M1178.2 520.5h0M1116.3 578.5h0M1082.5 573.4h0M1103 603.6h0M1161.2 655.7h0M1060.1 637.2h0M1104.3 662.2h0M1134.8 629.4h0M1038.3 625.3h0M1218.2 514.7h0M1066.2 621.1h0M1257.7 580.6h0M1021.6 628.4h0M1172 517.1h0M1253.4 591.7h0M1092.1 618.9h0M1090 546.1h0M1071.4 610.2h0" stroke="#10c010" stroke-width="3.8" stroke-linecap="round" filter="url(#bl)"/>
<path d="M1031 514.3h0M1183.1 549.2h0M1205.2 552.8h0M1036.6 514.3h0M1139.6 521.5h0M1165.2 494.4h0M1155.9 611.2h0M1180.1 607.9h0M1122.3 667.6h0M1212.3 589.7h0M1064.8 493.3h0M1168.2 528.6h0M1266.4 541.7h0M1038.2 588.3h0M1080.1 603.1h0M1047.6 506.7h0M1262.4 607.3h0M1019.7 620.7h0M1209.3 523.4h0M1082.2 664.5h0M1056.5 541.4h0M1082.5 617.9h0M1063.9 516.2h0M1151.4 597.5h0M1098.7 645h0M1251.9 572.9h0M1138.2 527.4h0M1139.8 554.3h0M1069.7 637.1h0M1028.4 660h0M1096.6 510.7h0M1200.9 533.7h0M1077.6 639.7h0M1102 571.7h0M1253 545.2h0M1244.8 573.9h0M1168.7 525.7h0M1138.8 554.2h0M1051.1 613.9h0M1173.5 614.4h0M1121.4 582h0M1123.9 552.7h0M1136 578.8h0M1174.3 572.9h0M1044.4 516.3h0M1051.1 650.8h0M1229 655.2h0M1121.6 493.1h0M1028.7 492.2h0M1028.1 516.4h0M1180.5 557.4h0M1173.8 625.5h0M1223.3 551.9h0M1062.9 546.5h0M1188.4 643.2h0M1230.4 580.1h0M1134.2 568.2h0M1163.9 613.7h0M1077 527h0M1114.6 566.8h0M1206.3 506.9h0M1210.9 645.5h0M1233.1 593.7h0M1111.5 651.9h0M1105.6 556.9h0M1251.8 535.6h0M1056.3 589.2h0M1234.3 657.9h0M1048.8 596.3h0M1100.1 544.1h0M1154.5 522.4h0M1219.9 562.6h0M1109.9 501.6h0M1027.4 495.8h0M1243.3 504.6h0M1241.8 548.9h0M1257.9 614.2h0M1192.8 510.3h0M1073.3 555.6h0M1140.3 587.2h0M1097.2 640h0M1112.3 556.1h0M1033.2 505.5h0M1226 551.8h0M1254.2 582.9h0M1076.8 560h0M1164.7 550.6h0M1082.2 658.8h0M1123.4 625.2h0M1261.7 556.9h0M1189.1 511.8h0M1135.1 549.6h0M1094.2 549.1h0M1198.3 525.4h0M1211.9 606.7h0M1253.3 639.3h0M1147.2 626.9h0M1205.3 548.1h0M1104.3 509h0M1177.2 660.7h0M1087.3 644.2h0M1058 662.5h0M1135.6 626.9h0M1252.5 628.5h0M1068.2 583.2h0M1096.5 601.4h0M1160.3 498.1h0M1039.8 549.6h0M1023 500.5h0M1143.9 579.8h0M1109.4 571.5h0M1170 529.4h0M1204.8 636.2h0M1226.9 635.8h0M1192.5 621.4h0M1194.4 571h0M1086.9 506.3h0M1129.1 528.3h0M1202.5 651.7h0M1142.2 506.5h0M1171.3 534.5h0M1027.6 490.5h0M1123.7 603.2h0M1106.5 613.8h0M1155.3 592.8h0M1224.5 564.3h0M1063.7 638.7h0M1204.9 565.3h0M1180.3 657.5h0M1248.9 628h0M1124.7 514.8h0M1033.1 603.1h0M1218.9 528.1h0M1221.8 509.1h0M1221.2 668.3h0M1251.6 612.2h0M1127.4 600h0M1206.8 641.5h0M1132.5 652.2h0M1135.9 639h0M1061 553.6h0M1144.7 541.1h0M1158.1 626.9h0M1192.4 647h0M1227.7 547.5h0M1068.7 666.2h0M1265.5 559.4h0M1032.8 515.9h0M1114.8 627.2h0M1150.1 605.5h0M1131.6 614.7h0M1166.9 490.7h0M1155.9 610.6h0M1253.1 669.8h0M1106.3 656h0M1090.4 664.2h0M1045.6 544h0M1060.6 664.3h0M1181.3 663.9h0M1199 620h0M1157 645.4h0M1250 559.5h0M1209.6 617.4h0M1038.7 542.4h0M1067.3 629.9h0M1256.1 555.6h0M1079.8 532.4h0M1199.8 558.3h0M1229.4 552.8h0M1268 531.4h0M1146.4 523.8h0M1173.8 503.7h0M1202 564.8h0M1172 513.1h0M1238.7 569.4h0M1133.8 558.5h0M1185.9 663.3h0M1173.4 604.2h0M1251.9 523.6h0M1113 606.4h0M1202.9 580.8h0M1216.6 668.8h0M1071.8 549.4h0M1256.7 618.3h0M1237.4 510.8h0M1131.5 589.1h0M1257.3 568.5h0M1187.8 671.1h0M1024 570.7h0M1048.9 637.9h0M1253.6 512.2h0M1168.8 498.7h0M1116.1 542.8h0M1219.4 660h0M1075 608.1h0M1091.9 524.6h0M1061.9 614.7h0M1219 516.1h0M1051.2 565.6h0M1027.3 675.3h0M1072.8 664h0M1063.8 674.8h0M1049 558h0M1218.3 639.5h0M1131.7 535.8h0M1181.7 651.9h0M1221.7 546.3h0M1211.7 634.7h0M1249.5 664.2h0M1238.6 538.9h0M1167.1 647.7h0M1135.7 580.5h0M1039.6 534.3h0M1059.1 618.5h0M1042.1 603h0M1228.4 556.7h0M1241.1 653.5h0M1092.9 567h0M1161.5 509h0M1113.6 536.3h0M1204.3 570.4h0M1141.6 645.8h0M1111.3 557.8h0M1065.7 602.2h0M1157.4 666.1h0M1251.6 568.8h0M1151.8 637.1h0M1188.1 628h0M1169 564.2h0M1153.4 660.4h0M1135.1 613.5h0M1166.8 495.6h0M1261.1 526.6h0M1262.1 490.2h0M1257.7 613.5h0M1225.8 634.6h0M1147.3 609.1h0M1079.7 544.1h0M1101.9 673.6h0M1241.8 535.1h0M1091.9 547.7h0M1068.4 652.2h0M1056.4 613.4h0M1201.3 645h0M1146.6 638.8h0M1093.4 574.8h0M1159.2 603.1h0M1093.5 581.5h0M1022.3 533.4h0M1165.5 501.8h0M1074.4 636.3h0M1173.8 516h0M1248 631.6h0M1120.7 518.4h0M1205.6 634.3h0M1052.4 638.7h0M1151.9 492.3h0M1186.5 545.8h0M1057.8 592.2h0M1237.7 541.4h0M1103.8 616.2h0M1142.3 632h0M1184 535.6h0M1147.3 647.9h0M1134.5 570.7h0M1194.5 559.3h0M1110 527.4h0M1250.3 645.7h0M1261.3 581.2h0M1092.8 582.8h0M1139.6 635.1h0M1260.9 577.1h0M1188.6 532h0M1184.7 510.6h0M1213.5 580h0M1135.1 645h0M1114.8 605.2h0M1241.9 630.9h0M1257.8 600.7h0M1173.6 615.3h0M1180.5 610.3h0M1131.8 528.6h0M1198.9 538.7h0M1075 633.6h0M1024.8 615.2h0M1121.7 557.6h0M1212.7 663.2h0M1228.7 552.4h0M1125.4 534.9h0M1141.7 573.7h0M1030.1 532.7h0M1020.7 663.1h0M1172 503.9h0M1097.5 530.6h0M1146.6 661.5h0M1157.4 567.2h0M1108.6 541h0M1102.2 588h0M1168 609.2h0M1171.9 564.1h0M1037.8 645.1h0M1187.9 585.3h0M1164.8 575.6h0M1130.3 491.7h0M1104.9 532.7h0M1151.3 633.2h0M1265.6 498.1h0M1032 668.5h0M1140.5 628.5h0M1162.9 661.4h0M1060.4 511.5h0M1098.3 568.9h0M1071.2 533.4h0M1048.1 655.7h0M1048.9 496.9h0M1038.9 566.8h0M1250.7 596.4h0M1201.9 549.9h0M1052.9 502.7h0M1228.8 495.5h0M1092.1 621.2h0M1187.3 676.1h0M1099.9 527.2h0M1109.9 576.9h0M1046.9 515.8h0M1086.6 626.3h0M1060.6 576.5h0M1108.2 634.6h0M1249.2 565h0M1110.8 545.1h0M1192.4 584.8h0M1134.7 624.2h0M1163.6 554h0M1218 622.4h0M1077.2 555.5h0M1077.5 503h0M1202.5 533.3h0M1157 592.3h0M1250.4 500.7h0M1186 518.6h0M1212.2 615.1h0M1155.6 532.9h0M1071.8 554.2h0M1028.9 627.2h0M1186.2 593.1h0M1020.5 608.9h0M1028.6 582.3h0M1055.1 520.9h0M1235.3 613.6h0M1193.5 652.8h0M1181.8 509.9h0M1078 673.5h0M1220.6 604.2h0M1133.7 626.7h0M1229.1 508.6h0M1070.7 607h0M1167.6 656.2h0M1193.8 516.5h0M1183 661.2h0M1035.8 634.1h0M1142.6 630.3h0M1199.1 557.7h0M1186.5 675.4h0M1231 613.9h0M1182.5 644.6h0M1243.9 619.1h0M1260.7 647.2h0M1065.2 611.7h0M1183 638.3h0M1244.8 657.4h0M1224.5 662.4h0M1025 673.9h0M1055 632.9h0M1094.1 563.1h0M1188.6 568.1h0M1149.5 598.9h0M1072.8 547h0M1027.3 526.5h0M1199.7 505.9h0M1230.3 622.6h0M1219.4 538.5h0M1124.5 544.6h0M1051.7 533.8h0" stroke="#22e822" stroke-width="3.8" stroke-linecap="round" filter="url(#bl)"/>
<path d="M1189.7 594.8h0M1091.9 572.9h0M1170 548.3h0M1152.1 555.8h0M1234.1 527.7h0M1102.1 623.2h0M1072.1 600h0M1073.2 668.2h0M1078.6 502h0M1179.1 657.7h0M1093 624.8h0M1069.4 668.8h0M1197.5 593.8h0M1260.9 595.3h0M1192.9 676.1h0" stroke="#a80c0c" stroke-width="3.6" stroke-linecap="round" filter="url(#bl)"/>
</g></g>
<line x1="142.8" y1="655.8" x2="228.5" y2="655.8" stroke="#d8d8d8" stroke-width="1.8"/>
<line x1="397.5" y1="655.8" x2="483.8" y2="655.8" stroke="#d8d8d8" stroke-width="1.8"/>
<line x1="653" y1="655.8" x2="737.7" y2="655.8" stroke="#d8d8d8" stroke-width="1.8"/>
<line x1="906.5" y1="655.8" x2="992.8" y2="655.8" stroke="#d8d8d8" stroke-width="1.8"/>
<line x1="1162" y1="655.8" x2="1247.8" y2="655.8" stroke="#d8d8d8" stroke-width="1.8"/>
<text x="1183" y="674" font-size="17" fill="#fff">400μm</text>
<text x="5" y="716.5" font-size="44">d</text>
<text x="47.5" y="713.7" font-size="24.65" fill="#231f20">In Vitro BBB Model</text>
<rect x="54.5" y="817.4" width="382.5" height="216.5" fill="#f6c5c7"/>
<path d="M51.7 745V1036.5H439.2V745" fill="none" stroke="#231f20" stroke-width="4.2"/>
<path d="M32.5 745.6H91.5L133 950H146M338.6 950H356L397.4 745.6H456.4" fill="none" stroke="#231f20" stroke-width="3.8" stroke-linejoin="miter"/>
<rect x="146" y="946" width="192.6" height="6.5" fill="#e7b9d8"/>
<path d="M146 950H338.6" stroke="#231f20" stroke-width="3.6" stroke-dasharray="5 9.15" stroke-dashoffset="5.6"/>
<ellipse cx="153.20" cy="940.5" rx="9.4" ry="5.6" fill="#d2201f" stroke="#231f20" stroke-width="1"/>
<ellipse cx="172.95" cy="940.5" rx="9.4" ry="5.6" fill="#d2201f" stroke="#231f20" stroke-width="1"/>
<ellipse cx="192.70" cy="940.5" rx="9.4" ry="5.6" fill="#d2201f" stroke="#231f20" stroke-width="1"/>
<ellipse cx="212.45" cy="940.5" rx="9.4" ry="5.6" fill="#d2201f" stroke="#231f20" stroke-width="1"/>
<ellipse cx="232.20" cy="940.5" rx="9.4" ry="5.6" fill="#d2201f" stroke="#231f20" stroke-width="1"/>
<ellipse cx="251.95" cy="940.5" rx="9.4" ry="5.6" fill="#d2201f" stroke="#231f20" stroke-width="1"/>
<ellipse cx="271.70" cy="940.5" rx="9.4" ry="5.6" fill="#d2201f" stroke="#231f20" stroke-width="1"/>
<ellipse cx="291.45" cy="940.5" rx="9.4" ry="5.6" fill="#d2201f" stroke="#231f20" stroke-width="1"/>
<ellipse cx="311.20" cy="940.5" rx="9.4" ry="5.6" fill="#d2201f" stroke="#231f20" stroke-width="1"/>
<ellipse cx="330.95" cy="940.5" rx="9.4" ry="5.6" fill="#d2201f" stroke="#231f20" stroke-width="1"/>
<line x1="322.7" y1="852.4" x2="468.4" y2="852.4" stroke="#231f20" stroke-width="1.8"/>
<path d="M486.4 852.4L464.4 843.0L469.4 852.4L464.4 861.8Z" fill="#231f20"/>
<line x1="343.6" y1="937.8" x2="465" y2="937.8" stroke="#231f20" stroke-width="1.8"/>
<path d="M483 937.8L461 928.4L466 937.8L461 947.1999999999999Z" fill="#231f20"/>
<line x1="398.5" y1="1004.4" x2="468.6" y2="1004.4" stroke="#231f20" stroke-width="1.8"/>
<path d="M486.6 1004.4L464.6 995.0L469.6 1004.4L464.6 1013.8Z" fill="#231f20"/>
<line x1="291.1" y1="956.2" x2="291.1" y2="1060" stroke="#231f20" stroke-width="1.8"/>
<path d="M291.1 1076.5L281.6 1055.5L291.1 1060L300.6 1055.5Z" fill="#231f20"/>
<text x="549" y="852.4" font-size="24.5" text-anchor="middle" fill="#231f20">Apical</text>
<text x="553" y="881.9" font-size="24.5" text-anchor="middle" fill="#231f20">Chamber</text>
<text x="545.6" y="923" font-size="24.5" text-anchor="middle" fill="#231f20">Cell</text>
<text x="549.7" y="953.3" font-size="24.5" text-anchor="middle" fill="#231f20">Monolayer</text>
<text x="553" y="993.7" font-size="24.5" text-anchor="middle" fill="#231f20">Basolateral</text>
<text x="556" y="1023" font-size="24.5" text-anchor="middle" fill="#231f20">Chamber</text>
<text x="80.5" y="1098.6" font-size="24.9" fill="#231f20">Porous Polyester Membrane(0.4μm)</text>
<text x="670" y="728" font-size="46">e</text>
<line x1="789.7" y1="751" x2="789.7" y2="1030.3" stroke="#000" stroke-width="3"/>
<line x1="782.4" y1="752.5000000000001" x2="789.7" y2="752.5000000000001" stroke="#000" stroke-width="2.6"/>
<text x="779" y="759.5000000000001" font-size="20" text-anchor="end" font-weight="bold">20</text>
<line x1="782.4" y1="821.6000000000001" x2="789.7" y2="821.6000000000001" stroke="#000" stroke-width="2.6"/>
<text x="779" y="828.6000000000001" font-size="20" text-anchor="end" font-weight="bold">15</text>
<line x1="782.4" y1="890.7" x2="789.7" y2="890.7" stroke="#000" stroke-width="2.6"/>
<text x="779" y="897.7" font-size="20" text-anchor="end" font-weight="bold">10</text>
<line x1="782.4" y1="959.8000000000001" x2="789.7" y2="959.8000000000001" stroke="#000" stroke-width="2.6"/>
<text x="779" y="966.8000000000001" font-size="20" text-anchor="end" font-weight="bold">5</text>
<line x1="782.4" y1="1028.9" x2="789.7" y2="1028.9" stroke="#000" stroke-width="2.6"/>
<text x="779" y="1035.9" font-size="20" text-anchor="end" font-weight="bold">0</text>
<text x="741" y="889" font-size="30.5" text-anchor="middle" transform="rotate(-90 741 889)">Transscytosis efficiency(%)</text>
<rect x="803.4" y="954.5" width="26.899999999999977" height="73.0" fill="#fff"/>
<path d="M804.0 1027.5V955.1H829.6999999999999V1027.5" fill="none" stroke="#8a8a8a" stroke-width="1.2"/>
<rect x="843.6" y="940.7" width="26.899999999999977" height="86.79999999999995" fill="#fde0e1"/>
<path d="M844.2 1027.5V941.3000000000001H869.9V1027.5" fill="none" stroke="#8a8a8a" stroke-width="1.2"/>
<rect x="909.2" y="925.6" width="27.699999999999932" height="101.89999999999998" fill="#fff"/>
<path d="M909.8000000000001 1027.5V926.2H936.3V1027.5" fill="none" stroke="#8a8a8a" stroke-width="1.2"/>
<rect x="950.4" y="929.75" width="26.399999999999977" height="97.75" fill="#fde0e1"/>
<path d="M951.0 1027.5V930.35H976.1999999999999V1027.5" fill="none" stroke="#8a8a8a" stroke-width="1.2"/>
<rect x="1017.3" y="859.6" width="26.299999999999955" height="167.89999999999998" fill="#fff"/>
<path d="M1017.9 1027.5V860.2H1043.0V1027.5" fill="none" stroke="#8a8a8a" stroke-width="1.2"/>
<rect x="1057.4" y="920.5" width="26.799999999999955" height="107.0" fill="#fde0e1"/>
<path d="M1058.0 1027.5V921.1H1083.6000000000001V1027.5" fill="none" stroke="#8a8a8a" stroke-width="1.2"/>
<rect x="1124.4" y="800.8" width="26.199999999999818" height="226.70000000000005" fill="#fff"/>
<path d="M1125.0 1027.5V801.4H1150.0V1027.5" fill="none" stroke="#8a8a8a" stroke-width="1.2"/>
<rect x="1164.4" y="903.7" width="27.0" height="123.79999999999995" fill="#fde0e1"/>
<path d="M1165.0 1027.5V904.3000000000001H1190.8000000000002V1027.5" fill="none" stroke="#8a8a8a" stroke-width="1.2"/>
<line x1="829.6999999999999" y1="954.5" x2="829.6999999999999" y2="1027.5" stroke="#333" stroke-width="1.2"/>
<line x1="844.2" y1="940.7" x2="844.2" y2="1027.5" stroke="#333" stroke-width="1.2"/>
<line x1="936.3" y1="925.6" x2="936.3" y2="1027.5" stroke="#333" stroke-width="1.2"/>
<line x1="951.0" y1="929.75" x2="951.0" y2="1027.5" stroke="#333" stroke-width="1.2"/>
<line x1="1043.0" y1="859.6" x2="1043.0" y2="1027.5" stroke="#333" stroke-width="1.2"/>
<line x1="1058.0" y1="920.5" x2="1058.0" y2="1027.5" stroke="#333" stroke-width="1.2"/>
<line x1="1150.0" y1="800.8" x2="1150.0" y2="1027.5" stroke="#333" stroke-width="1.2"/>
<line x1="1165.0" y1="903.7" x2="1165.0" y2="1027.5" stroke="#333" stroke-width="1.2"/>
<line x1="816.8" y1="948" x2="816.8" y2="961.5" stroke="#000" stroke-width="1.8"/>
<line x1="810.3" y1="948" x2="823.3" y2="948" stroke="#000" stroke-width="2.2"/>
<line x1="810.3" y1="961.5" x2="823.3" y2="961.5" stroke="#000" stroke-width="2.2"/>
<line x1="856.8" y1="934.6" x2="856.8" y2="948" stroke="#000" stroke-width="1.8"/>
<line x1="850.3" y1="934.6" x2="863.3" y2="934.6" stroke="#000" stroke-width="2.2"/>
<line x1="850.3" y1="948" x2="863.3" y2="948" stroke="#000" stroke-width="2.2"/>
<line x1="923" y1="920.4" x2="923" y2="931.7" stroke="#000" stroke-width="1.8"/>
<line x1="916.5" y1="920.4" x2="929.5" y2="920.4" stroke="#000" stroke-width="2.2"/>
<line x1="916.5" y1="931.7" x2="929.5" y2="931.7" stroke="#000" stroke-width="2.2"/>
<line x1="963.8" y1="920.4" x2="963.8" y2="939.5" stroke="#000" stroke-width="1.8"/>
<line x1="957.3" y1="920.4" x2="970.3" y2="920.4" stroke="#000" stroke-width="2.2"/>
<line x1="957.3" y1="939.5" x2="970.3" y2="939.5" stroke="#000" stroke-width="2.2"/>
<line x1="1030.4" y1="841.8" x2="1030.4" y2="878.3" stroke="#000" stroke-width="1.8"/>
<line x1="1023.9000000000001" y1="841.8" x2="1036.9" y2="841.8" stroke="#000" stroke-width="2.2"/>
<line x1="1023.9000000000001" y1="878.3" x2="1036.9" y2="878.3" stroke="#000" stroke-width="2.2"/>
<line x1="1070.6" y1="904.7" x2="1070.6" y2="936.8" stroke="#000" stroke-width="1.8"/>
<line x1="1064.1" y1="904.7" x2="1077.1" y2="904.7" stroke="#000" stroke-width="2.2"/>
<line x1="1064.1" y1="936.8" x2="1077.1" y2="936.8" stroke="#000" stroke-width="2.2"/>
<line x1="1137.4" y1="772.4" x2="1137.4" y2="830.6" stroke="#000" stroke-width="1.8"/>
<line x1="1130.9" y1="772.4" x2="1143.9" y2="772.4" stroke="#000" stroke-width="2.2"/>
<line x1="1130.9" y1="830.6" x2="1143.9" y2="830.6" stroke="#000" stroke-width="2.2"/>
<line x1="1177.6" y1="881.6" x2="1177.6" y2="926" stroke="#000" stroke-width="1.8"/>
<line x1="1171.1" y1="881.6" x2="1184.1" y2="881.6" stroke="#000" stroke-width="2.2"/>
<line x1="1171.1" y1="926" x2="1184.1" y2="926" stroke="#000" stroke-width="2.2"/>
<circle cx="809.1" cy="946.7" r="3.9"/>
<circle cx="816.8" cy="960.1" r="3.9"/>
<circle cx="823.7" cy="957.7" r="3.9"/>
<circle cx="915.75" cy="921.3" r="3.9"/>
<circle cx="931.4" cy="923.3" r="3.9"/>
<circle cx="923" cy="932" r="3.9"/>
<circle cx="1024" cy="846.9" r="3.9"/>
<circle cx="1037" cy="852.5" r="3.9"/>
<circle cx="1030.4" cy="881.4" r="3.9"/>
<circle cx="1137.4" cy="773.2" r="3.9"/>
<circle cx="1137.4" cy="798.75" r="3.9"/>
<circle cx="1137.4" cy="831.2" r="3.9"/>
<path d="M852.40 929.80h7.8v7.8h-7.8ZM859.30 937.60h7.8v7.8h-7.8ZM846.80 943.70h7.8v7.8h-7.8ZM953.80 919.40h7.8v7.8h-7.8ZM966.50 920.80h7.8v7.8h-7.8ZM959.90 936.80h7.8v7.8h-7.8ZM1066.70 901.20h7.8v7.8h-7.8ZM1066.70 914.60h7.8v7.8h-7.8ZM1066.70 933.70h7.8v7.8h-7.8ZM1167.20 883.50h7.8v7.8h-7.8ZM1179.80 890.60h7.8v7.8h-7.8ZM1173.70 925.10h7.8v7.8h-7.8Z" fill="#000"/>
<line x1="784" y1="1028.8" x2="1207" y2="1028.8" stroke="#000" stroke-width="3"/>
<line x1="836.3" y1="1028" x2="836.3" y2="1037" stroke="#000" stroke-width="2.6"/>
<text x="845.8" y="1050" font-size="26.5" text-anchor="end" transform="rotate(-45 845.8 1050)">0.5 h</text>
<line x1="943.3" y1="1028" x2="943.3" y2="1037" stroke="#000" stroke-width="2.6"/>
<text x="952.8" y="1050" font-size="26.5" text-anchor="end" transform="rotate(-45 952.8 1050)">1.0 h</text>
<line x1="1050.3" y1="1028" x2="1050.3" y2="1037" stroke="#000" stroke-width="2.6"/>
<text x="1059.8" y="1050" font-size="26.5" text-anchor="end" transform="rotate(-45 1059.8 1050)">2.0 h</text>
<line x1="1157.3" y1="1028" x2="1157.3" y2="1037" stroke="#000" stroke-width="2.6"/>
<text x="1166.8" y="1050" font-size="26.5" text-anchor="end" transform="rotate(-45 1166.8 1050)">4.0 h</text>
<rect x="798.7" y="754.2" width="30" height="14.5" fill="#fff" stroke="#333" stroke-width="1.2"/>
<rect x="798.7" y="783.5" width="30" height="14.5" fill="#fde0e1" stroke="#333" stroke-width="1.2"/>
<text x="846" y="769.2" font-size="23">PPA</text>
<text x="846" y="798.2" font-size="23">PP</text>
<path d="M1030.85 831.2V813H1072.7V885.4M1137.4 763V746.4H1179V856.4" fill="none" stroke="#000" stroke-width="1.6"/>
<text x="1052.6" y="813.9" font-size="25" text-anchor="middle" font-weight="bold">*</text>
<text x="1157.8" y="749.7" font-size="25" text-anchor="middle" font-weight="bold">*</text>
<text x="781" y="1178" font-size="45">g</text>
<rect x="899.9" y="1145" width="26.5" height="16.5" fill="#fff" stroke="#333" stroke-width="1.2"/>
<rect x="899.9" y="1165.5" width="26.5" height="16.5" fill="#fde0e1" stroke="#333" stroke-width="1.2"/>
<text x="942.4" y="1161.2" font-size="24.3">APP/PS1</text>
<text x="942.4" y="1181.4" font-size="24.3">APP/PS1+PPA</text>
<line x1="936.4" y1="1201.5" x2="936.4" y2="1455" stroke="#000" stroke-width="2.4"/>
<line x1="929.3" y1="1203.3" x2="936.4" y2="1203.3" stroke="#000" stroke-width="2.4"/>
<text x="926.5" y="1209.8999999999999" font-size="18.3" text-anchor="end" font-weight="bold">2.5</text>
<line x1="929.3" y1="1253.3999999999999" x2="936.4" y2="1253.3999999999999" stroke="#000" stroke-width="2.4"/>
<text x="926.5" y="1259.9999999999998" font-size="18.3" text-anchor="end" font-weight="bold">2.0</text>
<line x1="929.3" y1="1303.5" x2="936.4" y2="1303.5" stroke="#000" stroke-width="2.4"/>
<text x="926.5" y="1310.1" font-size="18.3" text-anchor="end" font-weight="bold">1.5</text>
<line x1="929.3" y1="1353.6" x2="936.4" y2="1353.6" stroke="#000" stroke-width="2.4"/>
<text x="926.5" y="1360.1999999999998" font-size="18.3" text-anchor="end" font-weight="bold">1.0</text>
<line x1="929.3" y1="1403.7" x2="936.4" y2="1403.7" stroke="#000" stroke-width="2.4"/>
<text x="926.5" y="1410.3" font-size="18.3" text-anchor="end" font-weight="bold">0.5</text>
<line x1="929.3" y1="1453.8" x2="936.4" y2="1453.8" stroke="#000" stroke-width="2.4"/>
<text x="926.5" y="1460.3999999999999" font-size="18.3" text-anchor="end" font-weight="bold">0.0</text>
<text x="843.4" y="1328.5" font-size="26.5" text-anchor="middle" transform="rotate(-90 843.4 1328.5)">MRI Signal Intensity</text>
<text x="877" y="1328.2" font-size="27" text-anchor="middle" transform="rotate(-90 877 1328.2)">(fold APP/PS1 mean)</text>
<rect x="955.5" y="1353.3" width="39.5" height="99.29999999999995" fill="#fff"/>
<path d="M956.1 1452.6V1353.8999999999999H994.4" fill="none" stroke="#999" stroke-width="1.2"/>
<line x1="994.4" y1="1353.3" x2="994.4" y2="1452.6" stroke="#ddd" stroke-width="1.2"/>
<line x1="955.5" y1="1353.8999999999999" x2="995" y2="1353.8999999999999" stroke="#333" stroke-width="1.2"/>
<rect x="1014.6" y="1248.6" width="38.80000000000007" height="204.0" fill="#fde0e1"/>
<path d="M1015.2 1452.6V1249.1999999999998H1052.8000000000002" fill="none" stroke="#444" stroke-width="1.2"/>
<line x1="1052.8000000000002" y1="1248.6" x2="1052.8000000000002" y2="1452.6" stroke="#333" stroke-width="1.2"/>
<line x1="1014.6" y1="1249.1999999999998" x2="1053.4" y2="1249.1999999999998" stroke="#333" stroke-width="1.2"/>
<rect x="1104.5" y="1353.3" width="39.5" height="99.29999999999995" fill="#fff"/>
<path d="M1105.1 1452.6V1353.8999999999999H1143.4" fill="none" stroke="#888" stroke-width="1.2"/>
<line x1="1143.4" y1="1353.3" x2="1143.4" y2="1452.6" stroke="#333" stroke-width="1.2"/>
<line x1="1104.5" y1="1353.8999999999999" x2="1144" y2="1353.8999999999999" stroke="#333" stroke-width="1.2"/>
<rect x="1163.3" y="1270.3" width="39.299999999999955" height="182.29999999999995" fill="#fde0e1"/>
<path d="M1163.8999999999999 1452.6V1270.8999999999999H1202.0" fill="none" stroke="#999" stroke-width="1.2"/>
<line x1="1202.0" y1="1270.3" x2="1202.0" y2="1452.6" stroke="#222" stroke-width="1.2"/>
<line x1="1163.3" y1="1270.8999999999999" x2="1202.6" y2="1270.8999999999999" stroke="#333" stroke-width="1.2"/>
<line x1="975.4" y1="1339.8" x2="975.4" y2="1368" stroke="#000" stroke-width="1.8"/>
<line x1="965.65" y1="1339.8" x2="985.15" y2="1339.8" stroke="#000" stroke-width="2.0"/>
<line x1="965.65" y1="1368" x2="985.15" y2="1368" stroke="#000" stroke-width="2.0"/>
<line x1="1034" y1="1217.8" x2="1034" y2="1278.1" stroke="#000" stroke-width="1.8"/>
<line x1="1024.25" y1="1217.8" x2="1043.75" y2="1217.8" stroke="#000" stroke-width="2.0"/>
<line x1="1024.25" y1="1278.1" x2="1043.75" y2="1278.1" stroke="#000" stroke-width="2.0"/>
<line x1="1123.9" y1="1339.8" x2="1123.9" y2="1368" stroke="#000" stroke-width="1.8"/>
<line x1="1114.15" y1="1339.8" x2="1133.65" y2="1339.8" stroke="#000" stroke-width="2.0"/>
<line x1="1114.15" y1="1368" x2="1133.65" y2="1368" stroke="#000" stroke-width="2.0"/>
<line x1="1182.5" y1="1255.2" x2="1182.5" y2="1285.7" stroke="#000" stroke-width="1.8"/>
<line x1="1172.75" y1="1255.2" x2="1192.25" y2="1255.2" stroke="#000" stroke-width="2.0"/>
<line x1="1172.75" y1="1285.7" x2="1192.25" y2="1285.7" stroke="#000" stroke-width="2.0"/>
<circle cx="967.8" cy="1343.1" r="4.6"/>
<circle cx="983.2" cy="1347.8" r="4.6"/>
<circle cx="975.4" cy="1370.3" r="4.6"/>
<circle cx="1116.3" cy="1344.3" r="4.6"/>
<circle cx="1131.4" cy="1346.7" r="4.6"/>
<circle cx="1123.9" cy="1370.3" r="4.6"/>
<path d="M1029.25 1208.35h9.5v9.5h-9.5ZM1037.55 1258.45h9.5v9.5h-9.5ZM1022.15 1263.25h9.5v9.5h-9.5ZM1177.75 1248.55h9.5v9.5h-9.5ZM1185.25 1268.65h9.5v9.5h-9.5ZM1170.45 1278.55h9.5v9.5h-9.5Z" fill="#000"/>
<line x1="935" y1="1453.8" x2="1223.1" y2="1453.8" stroke="#000" stroke-width="2.6"/>
<line x1="1002.8" y1="1453" x2="1002.8" y2="1459.5" stroke="#000" stroke-width="2.4"/>
<text x="1011.6" y="1479.3" font-size="27" text-anchor="end" transform="rotate(-35 1011.6 1479.3)">Cortex</text>
<line x1="1154.1" y1="1453" x2="1154.1" y2="1459.5" stroke="#000" stroke-width="2.4"/>
<text x="1155.3" y="1474.6" font-size="27" text-anchor="end" transform="rotate(-35 1155.3 1474.6)">Hippocampus</text>
<path d="M975.4 1321.8V1197.7H1034.5V1208.4M1123.4 1313.6V1228.5H1182.5V1243.8" fill="none" stroke="#000" stroke-width="1.5"/>
<text x="1005.2" y="1207" font-size="28" text-anchor="middle" font-weight="bold">*</text>
<text x="1152.9" y="1231.9" font-size="28" text-anchor="middle" font-weight="bold">*</text>
<text x="22" y="1171" font-size="46">f</text>
<text x="189.7" y="1185.7" font-size="27" text-anchor="middle">APP/PS1</text>
<text x="557.4" y="1185.7" font-size="27.5" text-anchor="middle">APP/PS1+PPA</text>
<defs><filter id="grain" x="0" y="0" width="100%" height="100%"><feTurbulence type="fractalNoise" baseFrequency="0.22" numOctaves="1" seed="7"/><feColorMatrix type="matrix" values="0 0 0 0 1  0 0 0 0 1  0 0 0 0 1  0.45 0 0 0 -0.2"/></filter></defs>
<defs><filter id="mb" x="-10%" y="-10%" width="120%" height="120%"><feGaussianBlur stdDeviation="9"/></filter><radialGradient id="rg2" cx="0.4" cy="0.35" r="0.65"><stop offset="0" stop-color="#5c5c5c"/><stop offset="0.6" stop-color="#4a4a4a"/><stop offset="1" stop-color="#3e3e3e"/></radialGradient></defs>
<g><clipPath id="mc1"><rect x="17.3" y="1199.4" width="361.3" height="361.3"/></clipPath>
<rect x="17.3" y="1199.4" width="361.3" height="361.3" fill="#000"/>
<g clip-path="url(#mc1)"><g transform="translate(17.3 1199.4) scale(0.28471)">
<rect x="8" y="8" width="1253" height="1253" fill="#0b0b0b"/>
<g filter="url(#mb)">
<path d="M320 0L380 150M870 0L845 110M880 50C990 60 1020 130 1000 220L950 290M1125 0C1120 150 1110 280 1100 360" fill="none" stroke="#555" stroke-width="10"/>
<path d="M360 140C450 70 760 60 850 110L1000 290C1080 350 1100 380 1095 420L1070 700C1050 850 1000 920 850 980L760 1030C740 1120 700 1230 600 1240C520 1230 480 1120 460 1030L330 950C230 880 200 780 195 650L190 450C170 380 160 330 200 320L300 250Z" fill="#2e2e2e"/>
<ellipse cx="630" cy="415" rx="300" ry="245" fill="#393939" stroke="#181818" stroke-width="14"/>
<path d="M250 500C300 650 350 800 420 960" stroke="#1a1a1a" stroke-width="22" fill="none"/>
<path d="M1010 480C960 650 900 800 820 960" stroke="#1a1a1a" stroke-width="22" fill="none"/>
<path d="M490 760L740 760L710 950L600 1110L520 950Z" fill="#4a4a4a"/>
<path d="M400 780L490 760L520 950L480 1010L430 960Z" fill="#141414"/>
<path d="M740 760L840 780L800 980L750 1000L710 950Z" fill="#141414"/>
<ellipse cx="520" cy="1100" rx="45" ry="75" fill="#101010"/><ellipse cx="655" cy="1100" rx="45" ry="75" fill="#101010"/>
<ellipse cx="625" cy="665" rx="40" ry="45" fill="#0e0e0e"/>
<ellipse cx="565" cy="728" rx="45" ry="12" fill="#8a8a8a"/><ellipse cx="678" cy="730" rx="38" ry="12" fill="#7a7a7a"/>
<path d="M330 950C400 990 450 1040 480 1100C520 1190 560 1235 610 1240C670 1235 720 1180 745 1110C760 1060 790 1020 850 990" fill="none" stroke="#4a4a4a" stroke-width="46" stroke-linecap="round" stroke-linejoin="round"/>
<path d="M205 330C200 450 195 600 200 700C210 800 250 880 330 940C380 975 420 990 450 1010C480 1100 520 1200 600 1235C690 1220 730 1120 760 1030C800 990 860 975 920 940C1010 880 1050 800 1065 700L1085 400" fill="none" stroke="#b8b8b8" stroke-width="16"/>
<path d="M380 150C470 80 740 70 845 105" fill="none" stroke="#585858" stroke-width="40" stroke-linecap="round"/>
<path d="M1080 440L1068 620" fill="none" stroke="#d0d0d0" stroke-width="28" stroke-linecap="round"/>
<path d="M203 680C210 790 250 875 340 935" fill="none" stroke="#c8c8c8" stroke-width="22" stroke-linecap="round"/>
<path d="M210 410L202 690" fill="none" stroke="#c4c4c4" stroke-width="24" stroke-linecap="round"/>
<ellipse cx="195" cy="360" rx="38" ry="50" fill="#e0e0e0"/><ellipse cx="1078" cy="410" rx="30" ry="45" fill="#e8e8e8"/>
<ellipse cx="380" cy="150" rx="18" ry="25" fill="#ccc"/><ellipse cx="840" cy="115" rx="18" ry="22" fill="#bbb"/>
<ellipse cx="590" cy="1225" rx="60" ry="18" fill="#cfcfcf"/>
</g>
<clipPath id="hc1"><path d="M360 140C450 70 760 60 850 110L1000 290C1080 350 1100 380 1095 420L1070 700C1050 850 1000 920 850 980L760 1030C740 1120 700 1230 600 1240C520 1230 480 1120 460 1030L330 950C230 880 200 780 195 650L190 450C170 380 160 330 200 320L300 250Z"/></clipPath>
<g clip-path="url(#hc1)"><rect x="8" y="8" width="1253" height="1253" filter="url(#grain)" opacity="0.6"/></g>
</g></g></g>
<g><clipPath id="mc2"><rect x="384.3" y="1199.4" width="361.3" height="361.3"/></clipPath>
<rect x="384.3" y="1199.4" width="361.3" height="361.3" fill="#000"/>
<g clip-path="url(#mc2)"><g transform="translate(384.3 1199.4) scale(0.28471)">
<rect x="8" y="8" width="1253" height="1253" fill="#0b0b0b"/>
<g filter="url(#mb)">
<path d="M330 0L370 110M1080 0C1050 100 1020 200 1000 260M1190 60C1160 200 1130 300 1110 380" fill="none" stroke="#444" stroke-width="12"/>
<path d="M380 130C480 100 800 120 910 170L1010 300C1100 380 1110 420 1100 460L1060 700C1040 850 990 920 860 990L780 1040C760 1140 720 1240 620 1245C530 1240 490 1150 480 1040L330 960C230 880 200 780 190 620L180 430C180 380 200 350 240 330L330 240Z" fill="#424242"/>
<path d="M320 260C280 380 275 520 300 640" stroke="#2a2a2a" stroke-width="70" fill="none" stroke-linecap="round"/>
<path d="M950 290C990 400 1000 520 985 640" stroke="#2a2a2a" stroke-width="70" fill="none" stroke-linecap="round"/>
<ellipse cx="630" cy="440" rx="285" ry="255" fill="url(#rg2)"/>
<path d="M265 360C250 500 260 650 300 780C330 870 380 930 440 980" stroke="#2c2c2c" stroke-width="36" fill="none"/>
<path d="M1010 460C990 600 960 760 900 870C870 920 830 960 800 990" stroke="#2e2e2e" stroke-width="30" fill="none"/>
<path d="M360 600C380 750 420 870 480 960" stroke="#262626" stroke-width="26" fill="none"/>
<path d="M880 600C860 750 820 870 770 960" stroke="#262626" stroke-width="26" fill="none"/>
<path d="M500 770L760 770L720 960L620 1110L540 960Z" fill="#5a5a5a"/>
<path d="M470 790Q630 740 790 800" stroke="#7a7a7a" stroke-width="22" fill="none"/>
<path d="M430 800L500 770L540 960L490 1020L455 960Z" fill="#202020"/>
<path d="M760 770L840 800L805 990L760 1010L720 960Z" fill="#202020"/>
<ellipse cx="550" cy="1110" rx="40" ry="70" fill="#151515"/><ellipse cx="668" cy="1110" rx="40" ry="70" fill="#151515"/>
<ellipse cx="630" cy="670" rx="32" ry="42" fill="#121212"/>
<ellipse cx="780" cy="585" rx="48" ry="20" fill="#cfcfcf"/><ellipse cx="462" cy="565" rx="22" ry="40" fill="#aaa"/>
<ellipse cx="630" cy="725" rx="45" ry="22" fill="#8a8a8a"/><ellipse cx="490" cy="770" rx="25" ry="15" fill="#777"/>
<path d="M235 350C195 420 180 520 185 620C190 720 220 820 290 890C350 950 430 990 480 1030C500 1130 530 1220 620 1230C720 1220 750 1130 770 1040C830 1000 890 970 960 910C1030 840 1055 740 1065 640L1095 430" fill="none" stroke="#d4d4d4" stroke-width="26"/>
<path d="M400 140C520 100 780 110 930 190" fill="none" stroke="#555" stroke-width="40"/>
<ellipse cx="940" cy="215" rx="24" ry="28" fill="#c8c8c8"/><ellipse cx="410" cy="150" rx="30" ry="28" fill="#999"/>
<ellipse cx="1080" cy="480" rx="34" ry="80" fill="#f0f0f0"/><ellipse cx="200" cy="470" rx="30" ry="70" fill="#e0e0e0"/>
<ellipse cx="610" cy="1215" rx="90" ry="26" fill="#e0e0e0"/><ellipse cx="500" cy="1020" rx="16" ry="28" fill="#f4f4f4"/><ellipse cx="770" cy="1030" rx="16" ry="28" fill="#e4e4e4"/>
</g>
<path d="M295 200L262 262L395 295Z M1035 255L1055 322L915 335Z M262 550L268 622L390 577Z M1022 518L1042 590L885 570Z" fill="#ffff00" stroke="#101060" stroke-width="3"/>
<clipPath id="hc2"><path d="M380 130C480 100 800 120 910 170L1010 300C1100 380 1110 420 1100 460L1060 700C1040 850 990 920 860 990L780 1040C760 1140 720 1240 620 1245C530 1240 490 1150 480 1040L330 960C230 880 200 780 190 620L180 430C180 380 200 350 240 330L330 240Z"/></clipPath>
<g clip-path="url(#hc2)"><rect x="8" y="8" width="1253" height="1253" filter="url(#grain)" opacity="0.8"/></g>
</g></g></g></svg></body></html>
